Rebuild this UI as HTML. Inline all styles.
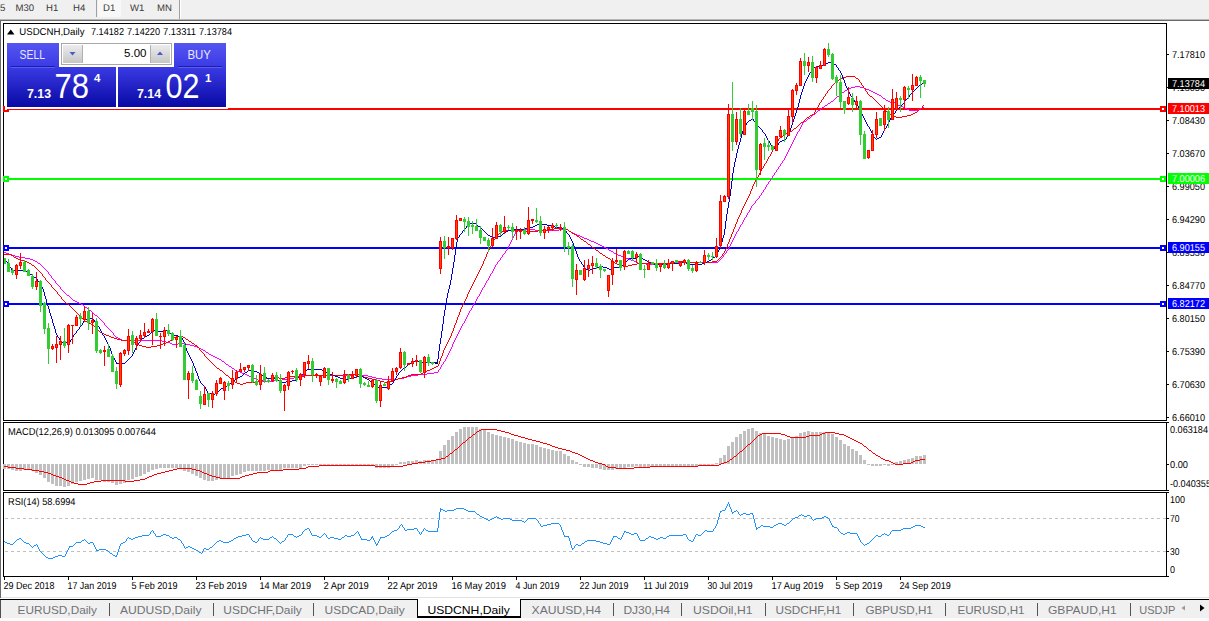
<!DOCTYPE html>
<html><head><meta charset="utf-8"><title>USDCNH,Daily</title>
<style>
html,body{margin:0;padding:0;}
body{width:1209px;height:621px;overflow:hidden;background:#fff;position:relative;font-family:"Liberation Sans",sans-serif;}
.abs{position:absolute;}
#toolbar{left:0;top:0;width:1209px;height:19px;background:#f0f0f0;}
#toolbar span{position:absolute;top:3px;text-rendering:geometricPrecision;font-size:9.6px;line-height:12px;color:#3a3a3a;white-space:nowrap;}
#tabs{left:0;top:600px;width:1209px;height:18px;background:#f0f0f0;}
#tabs span.t{position:absolute;top:3px;font-size:11.5px;line-height:14px;color:#6a6a6e;white-space:nowrap;transform-origin:0 0;}
#tabs i{position:absolute;top:2px;width:1px;height:14px;background:#5a5a5a;}
.px{position:absolute;background:linear-gradient(#4c4cec,#0a0aa6);}
</style></head><body>
<div id="toolbar" class="abs">
<span style="left:0px">5</span><span style="left:15.5px">M30</span><span style="left:46px">H1</span><span style="left:73px">H4</span>
<div class="abs" style="left:96px;top:0;width:1px;height:17px;background:#a0a0a0"></div>
<div class="abs" style="left:98px;top:0;width:23px;height:17px;background:#f8f8f8"></div>
<span style="left:103px">D1</span><span style="left:130px">W1</span><span style="left:157px">MN</span>
<div class="abs" style="left:179px;top:0;width:1px;height:19px;background:#a0a0a0"></div>
<div class="abs" style="left:180px;top:0;width:1px;height:19px;background:#fff"></div>
</div>
<div class="abs" style="left:0;top:19px;width:1209px;height:1px;background:#b8b8b8"></div>
<div class="abs" style="left:0;top:20px;width:1209px;height:1px;background:#6a6a6a"></div>
<div class="abs" style="left:0;top:21px;width:1px;height:577px;background:#6a6a6a"></div>
<svg class="abs" style="left:0;top:0" width="1209" height="621" viewBox="0 0 1209 621">
<g shape-rendering="crispEdges">
<rect x="3" y="23" width="1164" height="1" fill="#000"/>
<rect x="3" y="23" width="1" height="554" fill="#000"/>
<rect x="1166" y="23" width="1" height="554" fill="#000"/>
<rect x="3" y="420" width="1164" height="1" fill="#000"/>
<rect x="3" y="421" width="1164" height="1" fill="#fff"/>
<rect x="3" y="422" width="1166" height="1" fill="#000"/>
<rect x="3" y="490" width="1166" height="1" fill="#000"/>
<rect x="3" y="491" width="1164" height="1" fill="#fff"/>
<rect x="3" y="492" width="1166" height="1" fill="#000"/>
<rect x="3" y="576" width="1166" height="1" fill="#000"/>
<rect x="1167" y="54" width="2" height="1" fill="#000"/>
<rect x="1167" y="87" width="2" height="1" fill="#000"/>
<rect x="1167" y="120" width="2" height="1" fill="#000"/>
<rect x="1167" y="153" width="2" height="1" fill="#000"/>
<rect x="1167" y="186" width="2" height="1" fill="#000"/>
<rect x="1167" y="219" width="2" height="1" fill="#000"/>
<rect x="1167" y="252" width="2" height="1" fill="#000"/>
<rect x="1167" y="285" width="2" height="1" fill="#000"/>
<rect x="1167" y="318" width="2" height="1" fill="#000"/>
<rect x="1167" y="351" width="2" height="1" fill="#000"/>
<rect x="1167" y="384" width="2" height="1" fill="#000"/>
<rect x="1167" y="417" width="2" height="1" fill="#000"/>
<rect x="1167" y="464" width="2" height="1" fill="#000"/>
<rect x="1167" y="518" width="2" height="1" fill="#000"/>
<rect x="1167" y="551" width="2" height="1" fill="#000"/>
<rect x="4" y="577" width="1" height="3" fill="#000"/>
<rect x="68" y="577" width="1" height="3" fill="#000"/>
<rect x="132" y="577" width="1" height="3" fill="#000"/>
<rect x="196" y="577" width="1" height="3" fill="#000"/>
<rect x="260" y="577" width="1" height="3" fill="#000"/>
<rect x="324" y="577" width="1" height="3" fill="#000"/>
<rect x="388" y="577" width="1" height="3" fill="#000"/>
<rect x="452" y="577" width="1" height="3" fill="#000"/>
<rect x="516" y="577" width="1" height="3" fill="#000"/>
<rect x="580" y="577" width="1" height="3" fill="#000"/>
<rect x="644" y="577" width="1" height="3" fill="#000"/>
<rect x="708" y="577" width="1" height="3" fill="#000"/>
<rect x="772" y="577" width="1" height="3" fill="#000"/>
<rect x="836" y="577" width="1" height="3" fill="#000"/>
<rect x="900" y="577" width="1" height="3" fill="#000"/>
<rect x="5" y="518" width="3" height="1" fill="#c0c0c0"/>
<rect x="11" y="518" width="3" height="1" fill="#c0c0c0"/>
<rect x="17" y="518" width="3" height="1" fill="#c0c0c0"/>
<rect x="23" y="518" width="3" height="1" fill="#c0c0c0"/>
<rect x="29" y="518" width="3" height="1" fill="#c0c0c0"/>
<rect x="35" y="518" width="3" height="1" fill="#c0c0c0"/>
<rect x="41" y="518" width="3" height="1" fill="#c0c0c0"/>
<rect x="47" y="518" width="3" height="1" fill="#c0c0c0"/>
<rect x="53" y="518" width="3" height="1" fill="#c0c0c0"/>
<rect x="59" y="518" width="3" height="1" fill="#c0c0c0"/>
<rect x="65" y="518" width="3" height="1" fill="#c0c0c0"/>
<rect x="71" y="518" width="3" height="1" fill="#c0c0c0"/>
<rect x="77" y="518" width="3" height="1" fill="#c0c0c0"/>
<rect x="83" y="518" width="3" height="1" fill="#c0c0c0"/>
<rect x="89" y="518" width="3" height="1" fill="#c0c0c0"/>
<rect x="95" y="518" width="3" height="1" fill="#c0c0c0"/>
<rect x="101" y="518" width="3" height="1" fill="#c0c0c0"/>
<rect x="107" y="518" width="3" height="1" fill="#c0c0c0"/>
<rect x="113" y="518" width="3" height="1" fill="#c0c0c0"/>
<rect x="119" y="518" width="3" height="1" fill="#c0c0c0"/>
<rect x="125" y="518" width="3" height="1" fill="#c0c0c0"/>
<rect x="131" y="518" width="3" height="1" fill="#c0c0c0"/>
<rect x="137" y="518" width="3" height="1" fill="#c0c0c0"/>
<rect x="143" y="518" width="3" height="1" fill="#c0c0c0"/>
<rect x="149" y="518" width="3" height="1" fill="#c0c0c0"/>
<rect x="155" y="518" width="3" height="1" fill="#c0c0c0"/>
<rect x="161" y="518" width="3" height="1" fill="#c0c0c0"/>
<rect x="167" y="518" width="3" height="1" fill="#c0c0c0"/>
<rect x="173" y="518" width="3" height="1" fill="#c0c0c0"/>
<rect x="179" y="518" width="3" height="1" fill="#c0c0c0"/>
<rect x="185" y="518" width="3" height="1" fill="#c0c0c0"/>
<rect x="191" y="518" width="3" height="1" fill="#c0c0c0"/>
<rect x="197" y="518" width="3" height="1" fill="#c0c0c0"/>
<rect x="203" y="518" width="3" height="1" fill="#c0c0c0"/>
<rect x="209" y="518" width="3" height="1" fill="#c0c0c0"/>
<rect x="215" y="518" width="3" height="1" fill="#c0c0c0"/>
<rect x="221" y="518" width="3" height="1" fill="#c0c0c0"/>
<rect x="227" y="518" width="3" height="1" fill="#c0c0c0"/>
<rect x="233" y="518" width="3" height="1" fill="#c0c0c0"/>
<rect x="239" y="518" width="3" height="1" fill="#c0c0c0"/>
<rect x="245" y="518" width="3" height="1" fill="#c0c0c0"/>
<rect x="251" y="518" width="3" height="1" fill="#c0c0c0"/>
<rect x="257" y="518" width="3" height="1" fill="#c0c0c0"/>
<rect x="263" y="518" width="3" height="1" fill="#c0c0c0"/>
<rect x="269" y="518" width="3" height="1" fill="#c0c0c0"/>
<rect x="275" y="518" width="3" height="1" fill="#c0c0c0"/>
<rect x="281" y="518" width="3" height="1" fill="#c0c0c0"/>
<rect x="287" y="518" width="3" height="1" fill="#c0c0c0"/>
<rect x="293" y="518" width="3" height="1" fill="#c0c0c0"/>
<rect x="299" y="518" width="3" height="1" fill="#c0c0c0"/>
<rect x="305" y="518" width="3" height="1" fill="#c0c0c0"/>
<rect x="311" y="518" width="3" height="1" fill="#c0c0c0"/>
<rect x="317" y="518" width="3" height="1" fill="#c0c0c0"/>
<rect x="323" y="518" width="3" height="1" fill="#c0c0c0"/>
<rect x="329" y="518" width="3" height="1" fill="#c0c0c0"/>
<rect x="335" y="518" width="3" height="1" fill="#c0c0c0"/>
<rect x="341" y="518" width="3" height="1" fill="#c0c0c0"/>
<rect x="347" y="518" width="3" height="1" fill="#c0c0c0"/>
<rect x="353" y="518" width="3" height="1" fill="#c0c0c0"/>
<rect x="359" y="518" width="3" height="1" fill="#c0c0c0"/>
<rect x="365" y="518" width="3" height="1" fill="#c0c0c0"/>
<rect x="371" y="518" width="3" height="1" fill="#c0c0c0"/>
<rect x="377" y="518" width="3" height="1" fill="#c0c0c0"/>
<rect x="383" y="518" width="3" height="1" fill="#c0c0c0"/>
<rect x="389" y="518" width="3" height="1" fill="#c0c0c0"/>
<rect x="395" y="518" width="3" height="1" fill="#c0c0c0"/>
<rect x="401" y="518" width="3" height="1" fill="#c0c0c0"/>
<rect x="407" y="518" width="3" height="1" fill="#c0c0c0"/>
<rect x="413" y="518" width="3" height="1" fill="#c0c0c0"/>
<rect x="419" y="518" width="3" height="1" fill="#c0c0c0"/>
<rect x="425" y="518" width="3" height="1" fill="#c0c0c0"/>
<rect x="431" y="518" width="3" height="1" fill="#c0c0c0"/>
<rect x="437" y="518" width="3" height="1" fill="#c0c0c0"/>
<rect x="443" y="518" width="3" height="1" fill="#c0c0c0"/>
<rect x="449" y="518" width="3" height="1" fill="#c0c0c0"/>
<rect x="455" y="518" width="3" height="1" fill="#c0c0c0"/>
<rect x="461" y="518" width="3" height="1" fill="#c0c0c0"/>
<rect x="467" y="518" width="3" height="1" fill="#c0c0c0"/>
<rect x="473" y="518" width="3" height="1" fill="#c0c0c0"/>
<rect x="479" y="518" width="3" height="1" fill="#c0c0c0"/>
<rect x="485" y="518" width="3" height="1" fill="#c0c0c0"/>
<rect x="491" y="518" width="3" height="1" fill="#c0c0c0"/>
<rect x="497" y="518" width="3" height="1" fill="#c0c0c0"/>
<rect x="503" y="518" width="3" height="1" fill="#c0c0c0"/>
<rect x="509" y="518" width="3" height="1" fill="#c0c0c0"/>
<rect x="515" y="518" width="3" height="1" fill="#c0c0c0"/>
<rect x="521" y="518" width="3" height="1" fill="#c0c0c0"/>
<rect x="527" y="518" width="3" height="1" fill="#c0c0c0"/>
<rect x="533" y="518" width="3" height="1" fill="#c0c0c0"/>
<rect x="539" y="518" width="3" height="1" fill="#c0c0c0"/>
<rect x="545" y="518" width="3" height="1" fill="#c0c0c0"/>
<rect x="551" y="518" width="3" height="1" fill="#c0c0c0"/>
<rect x="557" y="518" width="3" height="1" fill="#c0c0c0"/>
<rect x="563" y="518" width="3" height="1" fill="#c0c0c0"/>
<rect x="569" y="518" width="3" height="1" fill="#c0c0c0"/>
<rect x="575" y="518" width="3" height="1" fill="#c0c0c0"/>
<rect x="581" y="518" width="3" height="1" fill="#c0c0c0"/>
<rect x="587" y="518" width="3" height="1" fill="#c0c0c0"/>
<rect x="593" y="518" width="3" height="1" fill="#c0c0c0"/>
<rect x="599" y="518" width="3" height="1" fill="#c0c0c0"/>
<rect x="605" y="518" width="3" height="1" fill="#c0c0c0"/>
<rect x="611" y="518" width="3" height="1" fill="#c0c0c0"/>
<rect x="617" y="518" width="3" height="1" fill="#c0c0c0"/>
<rect x="623" y="518" width="3" height="1" fill="#c0c0c0"/>
<rect x="629" y="518" width="3" height="1" fill="#c0c0c0"/>
<rect x="635" y="518" width="3" height="1" fill="#c0c0c0"/>
<rect x="641" y="518" width="3" height="1" fill="#c0c0c0"/>
<rect x="647" y="518" width="3" height="1" fill="#c0c0c0"/>
<rect x="653" y="518" width="3" height="1" fill="#c0c0c0"/>
<rect x="659" y="518" width="3" height="1" fill="#c0c0c0"/>
<rect x="665" y="518" width="3" height="1" fill="#c0c0c0"/>
<rect x="671" y="518" width="3" height="1" fill="#c0c0c0"/>
<rect x="677" y="518" width="3" height="1" fill="#c0c0c0"/>
<rect x="683" y="518" width="3" height="1" fill="#c0c0c0"/>
<rect x="689" y="518" width="3" height="1" fill="#c0c0c0"/>
<rect x="695" y="518" width="3" height="1" fill="#c0c0c0"/>
<rect x="701" y="518" width="3" height="1" fill="#c0c0c0"/>
<rect x="707" y="518" width="3" height="1" fill="#c0c0c0"/>
<rect x="713" y="518" width="3" height="1" fill="#c0c0c0"/>
<rect x="719" y="518" width="3" height="1" fill="#c0c0c0"/>
<rect x="725" y="518" width="3" height="1" fill="#c0c0c0"/>
<rect x="731" y="518" width="3" height="1" fill="#c0c0c0"/>
<rect x="737" y="518" width="3" height="1" fill="#c0c0c0"/>
<rect x="743" y="518" width="3" height="1" fill="#c0c0c0"/>
<rect x="749" y="518" width="3" height="1" fill="#c0c0c0"/>
<rect x="755" y="518" width="3" height="1" fill="#c0c0c0"/>
<rect x="761" y="518" width="3" height="1" fill="#c0c0c0"/>
<rect x="767" y="518" width="3" height="1" fill="#c0c0c0"/>
<rect x="773" y="518" width="3" height="1" fill="#c0c0c0"/>
<rect x="779" y="518" width="3" height="1" fill="#c0c0c0"/>
<rect x="785" y="518" width="3" height="1" fill="#c0c0c0"/>
<rect x="791" y="518" width="3" height="1" fill="#c0c0c0"/>
<rect x="797" y="518" width="3" height="1" fill="#c0c0c0"/>
<rect x="803" y="518" width="3" height="1" fill="#c0c0c0"/>
<rect x="809" y="518" width="3" height="1" fill="#c0c0c0"/>
<rect x="815" y="518" width="3" height="1" fill="#c0c0c0"/>
<rect x="821" y="518" width="3" height="1" fill="#c0c0c0"/>
<rect x="827" y="518" width="3" height="1" fill="#c0c0c0"/>
<rect x="833" y="518" width="3" height="1" fill="#c0c0c0"/>
<rect x="839" y="518" width="3" height="1" fill="#c0c0c0"/>
<rect x="845" y="518" width="3" height="1" fill="#c0c0c0"/>
<rect x="851" y="518" width="3" height="1" fill="#c0c0c0"/>
<rect x="857" y="518" width="3" height="1" fill="#c0c0c0"/>
<rect x="863" y="518" width="3" height="1" fill="#c0c0c0"/>
<rect x="869" y="518" width="3" height="1" fill="#c0c0c0"/>
<rect x="875" y="518" width="3" height="1" fill="#c0c0c0"/>
<rect x="881" y="518" width="3" height="1" fill="#c0c0c0"/>
<rect x="887" y="518" width="3" height="1" fill="#c0c0c0"/>
<rect x="893" y="518" width="3" height="1" fill="#c0c0c0"/>
<rect x="899" y="518" width="3" height="1" fill="#c0c0c0"/>
<rect x="905" y="518" width="3" height="1" fill="#c0c0c0"/>
<rect x="911" y="518" width="3" height="1" fill="#c0c0c0"/>
<rect x="917" y="518" width="3" height="1" fill="#c0c0c0"/>
<rect x="923" y="518" width="3" height="1" fill="#c0c0c0"/>
<rect x="929" y="518" width="3" height="1" fill="#c0c0c0"/>
<rect x="935" y="518" width="3" height="1" fill="#c0c0c0"/>
<rect x="941" y="518" width="3" height="1" fill="#c0c0c0"/>
<rect x="947" y="518" width="3" height="1" fill="#c0c0c0"/>
<rect x="953" y="518" width="3" height="1" fill="#c0c0c0"/>
<rect x="959" y="518" width="3" height="1" fill="#c0c0c0"/>
<rect x="965" y="518" width="3" height="1" fill="#c0c0c0"/>
<rect x="971" y="518" width="3" height="1" fill="#c0c0c0"/>
<rect x="977" y="518" width="3" height="1" fill="#c0c0c0"/>
<rect x="983" y="518" width="3" height="1" fill="#c0c0c0"/>
<rect x="989" y="518" width="3" height="1" fill="#c0c0c0"/>
<rect x="995" y="518" width="3" height="1" fill="#c0c0c0"/>
<rect x="1001" y="518" width="3" height="1" fill="#c0c0c0"/>
<rect x="1007" y="518" width="3" height="1" fill="#c0c0c0"/>
<rect x="1013" y="518" width="3" height="1" fill="#c0c0c0"/>
<rect x="1019" y="518" width="3" height="1" fill="#c0c0c0"/>
<rect x="1025" y="518" width="3" height="1" fill="#c0c0c0"/>
<rect x="1031" y="518" width="3" height="1" fill="#c0c0c0"/>
<rect x="1037" y="518" width="3" height="1" fill="#c0c0c0"/>
<rect x="1043" y="518" width="3" height="1" fill="#c0c0c0"/>
<rect x="1049" y="518" width="3" height="1" fill="#c0c0c0"/>
<rect x="1055" y="518" width="3" height="1" fill="#c0c0c0"/>
<rect x="1061" y="518" width="3" height="1" fill="#c0c0c0"/>
<rect x="1067" y="518" width="3" height="1" fill="#c0c0c0"/>
<rect x="1073" y="518" width="3" height="1" fill="#c0c0c0"/>
<rect x="1079" y="518" width="3" height="1" fill="#c0c0c0"/>
<rect x="1085" y="518" width="3" height="1" fill="#c0c0c0"/>
<rect x="1091" y="518" width="3" height="1" fill="#c0c0c0"/>
<rect x="1097" y="518" width="3" height="1" fill="#c0c0c0"/>
<rect x="1103" y="518" width="3" height="1" fill="#c0c0c0"/>
<rect x="1109" y="518" width="3" height="1" fill="#c0c0c0"/>
<rect x="1115" y="518" width="3" height="1" fill="#c0c0c0"/>
<rect x="1121" y="518" width="3" height="1" fill="#c0c0c0"/>
<rect x="1127" y="518" width="3" height="1" fill="#c0c0c0"/>
<rect x="1133" y="518" width="3" height="1" fill="#c0c0c0"/>
<rect x="1139" y="518" width="3" height="1" fill="#c0c0c0"/>
<rect x="1145" y="518" width="3" height="1" fill="#c0c0c0"/>
<rect x="1151" y="518" width="3" height="1" fill="#c0c0c0"/>
<rect x="1157" y="518" width="3" height="1" fill="#c0c0c0"/>
<rect x="1163" y="518" width="3" height="1" fill="#c0c0c0"/>
<rect x="5" y="551" width="3" height="1" fill="#c0c0c0"/>
<rect x="11" y="551" width="3" height="1" fill="#c0c0c0"/>
<rect x="17" y="551" width="3" height="1" fill="#c0c0c0"/>
<rect x="23" y="551" width="3" height="1" fill="#c0c0c0"/>
<rect x="29" y="551" width="3" height="1" fill="#c0c0c0"/>
<rect x="35" y="551" width="3" height="1" fill="#c0c0c0"/>
<rect x="41" y="551" width="3" height="1" fill="#c0c0c0"/>
<rect x="47" y="551" width="3" height="1" fill="#c0c0c0"/>
<rect x="53" y="551" width="3" height="1" fill="#c0c0c0"/>
<rect x="59" y="551" width="3" height="1" fill="#c0c0c0"/>
<rect x="65" y="551" width="3" height="1" fill="#c0c0c0"/>
<rect x="71" y="551" width="3" height="1" fill="#c0c0c0"/>
<rect x="77" y="551" width="3" height="1" fill="#c0c0c0"/>
<rect x="83" y="551" width="3" height="1" fill="#c0c0c0"/>
<rect x="89" y="551" width="3" height="1" fill="#c0c0c0"/>
<rect x="95" y="551" width="3" height="1" fill="#c0c0c0"/>
<rect x="101" y="551" width="3" height="1" fill="#c0c0c0"/>
<rect x="107" y="551" width="3" height="1" fill="#c0c0c0"/>
<rect x="113" y="551" width="3" height="1" fill="#c0c0c0"/>
<rect x="119" y="551" width="3" height="1" fill="#c0c0c0"/>
<rect x="125" y="551" width="3" height="1" fill="#c0c0c0"/>
<rect x="131" y="551" width="3" height="1" fill="#c0c0c0"/>
<rect x="137" y="551" width="3" height="1" fill="#c0c0c0"/>
<rect x="143" y="551" width="3" height="1" fill="#c0c0c0"/>
<rect x="149" y="551" width="3" height="1" fill="#c0c0c0"/>
<rect x="155" y="551" width="3" height="1" fill="#c0c0c0"/>
<rect x="161" y="551" width="3" height="1" fill="#c0c0c0"/>
<rect x="167" y="551" width="3" height="1" fill="#c0c0c0"/>
<rect x="173" y="551" width="3" height="1" fill="#c0c0c0"/>
<rect x="179" y="551" width="3" height="1" fill="#c0c0c0"/>
<rect x="185" y="551" width="3" height="1" fill="#c0c0c0"/>
<rect x="191" y="551" width="3" height="1" fill="#c0c0c0"/>
<rect x="197" y="551" width="3" height="1" fill="#c0c0c0"/>
<rect x="203" y="551" width="3" height="1" fill="#c0c0c0"/>
<rect x="209" y="551" width="3" height="1" fill="#c0c0c0"/>
<rect x="215" y="551" width="3" height="1" fill="#c0c0c0"/>
<rect x="221" y="551" width="3" height="1" fill="#c0c0c0"/>
<rect x="227" y="551" width="3" height="1" fill="#c0c0c0"/>
<rect x="233" y="551" width="3" height="1" fill="#c0c0c0"/>
<rect x="239" y="551" width="3" height="1" fill="#c0c0c0"/>
<rect x="245" y="551" width="3" height="1" fill="#c0c0c0"/>
<rect x="251" y="551" width="3" height="1" fill="#c0c0c0"/>
<rect x="257" y="551" width="3" height="1" fill="#c0c0c0"/>
<rect x="263" y="551" width="3" height="1" fill="#c0c0c0"/>
<rect x="269" y="551" width="3" height="1" fill="#c0c0c0"/>
<rect x="275" y="551" width="3" height="1" fill="#c0c0c0"/>
<rect x="281" y="551" width="3" height="1" fill="#c0c0c0"/>
<rect x="287" y="551" width="3" height="1" fill="#c0c0c0"/>
<rect x="293" y="551" width="3" height="1" fill="#c0c0c0"/>
<rect x="299" y="551" width="3" height="1" fill="#c0c0c0"/>
<rect x="305" y="551" width="3" height="1" fill="#c0c0c0"/>
<rect x="311" y="551" width="3" height="1" fill="#c0c0c0"/>
<rect x="317" y="551" width="3" height="1" fill="#c0c0c0"/>
<rect x="323" y="551" width="3" height="1" fill="#c0c0c0"/>
<rect x="329" y="551" width="3" height="1" fill="#c0c0c0"/>
<rect x="335" y="551" width="3" height="1" fill="#c0c0c0"/>
<rect x="341" y="551" width="3" height="1" fill="#c0c0c0"/>
<rect x="347" y="551" width="3" height="1" fill="#c0c0c0"/>
<rect x="353" y="551" width="3" height="1" fill="#c0c0c0"/>
<rect x="359" y="551" width="3" height="1" fill="#c0c0c0"/>
<rect x="365" y="551" width="3" height="1" fill="#c0c0c0"/>
<rect x="371" y="551" width="3" height="1" fill="#c0c0c0"/>
<rect x="377" y="551" width="3" height="1" fill="#c0c0c0"/>
<rect x="383" y="551" width="3" height="1" fill="#c0c0c0"/>
<rect x="389" y="551" width="3" height="1" fill="#c0c0c0"/>
<rect x="395" y="551" width="3" height="1" fill="#c0c0c0"/>
<rect x="401" y="551" width="3" height="1" fill="#c0c0c0"/>
<rect x="407" y="551" width="3" height="1" fill="#c0c0c0"/>
<rect x="413" y="551" width="3" height="1" fill="#c0c0c0"/>
<rect x="419" y="551" width="3" height="1" fill="#c0c0c0"/>
<rect x="425" y="551" width="3" height="1" fill="#c0c0c0"/>
<rect x="431" y="551" width="3" height="1" fill="#c0c0c0"/>
<rect x="437" y="551" width="3" height="1" fill="#c0c0c0"/>
<rect x="443" y="551" width="3" height="1" fill="#c0c0c0"/>
<rect x="449" y="551" width="3" height="1" fill="#c0c0c0"/>
<rect x="455" y="551" width="3" height="1" fill="#c0c0c0"/>
<rect x="461" y="551" width="3" height="1" fill="#c0c0c0"/>
<rect x="467" y="551" width="3" height="1" fill="#c0c0c0"/>
<rect x="473" y="551" width="3" height="1" fill="#c0c0c0"/>
<rect x="479" y="551" width="3" height="1" fill="#c0c0c0"/>
<rect x="485" y="551" width="3" height="1" fill="#c0c0c0"/>
<rect x="491" y="551" width="3" height="1" fill="#c0c0c0"/>
<rect x="497" y="551" width="3" height="1" fill="#c0c0c0"/>
<rect x="503" y="551" width="3" height="1" fill="#c0c0c0"/>
<rect x="509" y="551" width="3" height="1" fill="#c0c0c0"/>
<rect x="515" y="551" width="3" height="1" fill="#c0c0c0"/>
<rect x="521" y="551" width="3" height="1" fill="#c0c0c0"/>
<rect x="527" y="551" width="3" height="1" fill="#c0c0c0"/>
<rect x="533" y="551" width="3" height="1" fill="#c0c0c0"/>
<rect x="539" y="551" width="3" height="1" fill="#c0c0c0"/>
<rect x="545" y="551" width="3" height="1" fill="#c0c0c0"/>
<rect x="551" y="551" width="3" height="1" fill="#c0c0c0"/>
<rect x="557" y="551" width="3" height="1" fill="#c0c0c0"/>
<rect x="563" y="551" width="3" height="1" fill="#c0c0c0"/>
<rect x="569" y="551" width="3" height="1" fill="#c0c0c0"/>
<rect x="575" y="551" width="3" height="1" fill="#c0c0c0"/>
<rect x="581" y="551" width="3" height="1" fill="#c0c0c0"/>
<rect x="587" y="551" width="3" height="1" fill="#c0c0c0"/>
<rect x="593" y="551" width="3" height="1" fill="#c0c0c0"/>
<rect x="599" y="551" width="3" height="1" fill="#c0c0c0"/>
<rect x="605" y="551" width="3" height="1" fill="#c0c0c0"/>
<rect x="611" y="551" width="3" height="1" fill="#c0c0c0"/>
<rect x="617" y="551" width="3" height="1" fill="#c0c0c0"/>
<rect x="623" y="551" width="3" height="1" fill="#c0c0c0"/>
<rect x="629" y="551" width="3" height="1" fill="#c0c0c0"/>
<rect x="635" y="551" width="3" height="1" fill="#c0c0c0"/>
<rect x="641" y="551" width="3" height="1" fill="#c0c0c0"/>
<rect x="647" y="551" width="3" height="1" fill="#c0c0c0"/>
<rect x="653" y="551" width="3" height="1" fill="#c0c0c0"/>
<rect x="659" y="551" width="3" height="1" fill="#c0c0c0"/>
<rect x="665" y="551" width="3" height="1" fill="#c0c0c0"/>
<rect x="671" y="551" width="3" height="1" fill="#c0c0c0"/>
<rect x="677" y="551" width="3" height="1" fill="#c0c0c0"/>
<rect x="683" y="551" width="3" height="1" fill="#c0c0c0"/>
<rect x="689" y="551" width="3" height="1" fill="#c0c0c0"/>
<rect x="695" y="551" width="3" height="1" fill="#c0c0c0"/>
<rect x="701" y="551" width="3" height="1" fill="#c0c0c0"/>
<rect x="707" y="551" width="3" height="1" fill="#c0c0c0"/>
<rect x="713" y="551" width="3" height="1" fill="#c0c0c0"/>
<rect x="719" y="551" width="3" height="1" fill="#c0c0c0"/>
<rect x="725" y="551" width="3" height="1" fill="#c0c0c0"/>
<rect x="731" y="551" width="3" height="1" fill="#c0c0c0"/>
<rect x="737" y="551" width="3" height="1" fill="#c0c0c0"/>
<rect x="743" y="551" width="3" height="1" fill="#c0c0c0"/>
<rect x="749" y="551" width="3" height="1" fill="#c0c0c0"/>
<rect x="755" y="551" width="3" height="1" fill="#c0c0c0"/>
<rect x="761" y="551" width="3" height="1" fill="#c0c0c0"/>
<rect x="767" y="551" width="3" height="1" fill="#c0c0c0"/>
<rect x="773" y="551" width="3" height="1" fill="#c0c0c0"/>
<rect x="779" y="551" width="3" height="1" fill="#c0c0c0"/>
<rect x="785" y="551" width="3" height="1" fill="#c0c0c0"/>
<rect x="791" y="551" width="3" height="1" fill="#c0c0c0"/>
<rect x="797" y="551" width="3" height="1" fill="#c0c0c0"/>
<rect x="803" y="551" width="3" height="1" fill="#c0c0c0"/>
<rect x="809" y="551" width="3" height="1" fill="#c0c0c0"/>
<rect x="815" y="551" width="3" height="1" fill="#c0c0c0"/>
<rect x="821" y="551" width="3" height="1" fill="#c0c0c0"/>
<rect x="827" y="551" width="3" height="1" fill="#c0c0c0"/>
<rect x="833" y="551" width="3" height="1" fill="#c0c0c0"/>
<rect x="839" y="551" width="3" height="1" fill="#c0c0c0"/>
<rect x="845" y="551" width="3" height="1" fill="#c0c0c0"/>
<rect x="851" y="551" width="3" height="1" fill="#c0c0c0"/>
<rect x="857" y="551" width="3" height="1" fill="#c0c0c0"/>
<rect x="863" y="551" width="3" height="1" fill="#c0c0c0"/>
<rect x="869" y="551" width="3" height="1" fill="#c0c0c0"/>
<rect x="875" y="551" width="3" height="1" fill="#c0c0c0"/>
<rect x="881" y="551" width="3" height="1" fill="#c0c0c0"/>
<rect x="887" y="551" width="3" height="1" fill="#c0c0c0"/>
<rect x="893" y="551" width="3" height="1" fill="#c0c0c0"/>
<rect x="899" y="551" width="3" height="1" fill="#c0c0c0"/>
<rect x="905" y="551" width="3" height="1" fill="#c0c0c0"/>
<rect x="911" y="551" width="3" height="1" fill="#c0c0c0"/>
<rect x="917" y="551" width="3" height="1" fill="#c0c0c0"/>
<rect x="923" y="551" width="3" height="1" fill="#c0c0c0"/>
<rect x="929" y="551" width="3" height="1" fill="#c0c0c0"/>
<rect x="935" y="551" width="3" height="1" fill="#c0c0c0"/>
<rect x="941" y="551" width="3" height="1" fill="#c0c0c0"/>
<rect x="947" y="551" width="3" height="1" fill="#c0c0c0"/>
<rect x="953" y="551" width="3" height="1" fill="#c0c0c0"/>
<rect x="959" y="551" width="3" height="1" fill="#c0c0c0"/>
<rect x="965" y="551" width="3" height="1" fill="#c0c0c0"/>
<rect x="971" y="551" width="3" height="1" fill="#c0c0c0"/>
<rect x="977" y="551" width="3" height="1" fill="#c0c0c0"/>
<rect x="983" y="551" width="3" height="1" fill="#c0c0c0"/>
<rect x="989" y="551" width="3" height="1" fill="#c0c0c0"/>
<rect x="995" y="551" width="3" height="1" fill="#c0c0c0"/>
<rect x="1001" y="551" width="3" height="1" fill="#c0c0c0"/>
<rect x="1007" y="551" width="3" height="1" fill="#c0c0c0"/>
<rect x="1013" y="551" width="3" height="1" fill="#c0c0c0"/>
<rect x="1019" y="551" width="3" height="1" fill="#c0c0c0"/>
<rect x="1025" y="551" width="3" height="1" fill="#c0c0c0"/>
<rect x="1031" y="551" width="3" height="1" fill="#c0c0c0"/>
<rect x="1037" y="551" width="3" height="1" fill="#c0c0c0"/>
<rect x="1043" y="551" width="3" height="1" fill="#c0c0c0"/>
<rect x="1049" y="551" width="3" height="1" fill="#c0c0c0"/>
<rect x="1055" y="551" width="3" height="1" fill="#c0c0c0"/>
<rect x="1061" y="551" width="3" height="1" fill="#c0c0c0"/>
<rect x="1067" y="551" width="3" height="1" fill="#c0c0c0"/>
<rect x="1073" y="551" width="3" height="1" fill="#c0c0c0"/>
<rect x="1079" y="551" width="3" height="1" fill="#c0c0c0"/>
<rect x="1085" y="551" width="3" height="1" fill="#c0c0c0"/>
<rect x="1091" y="551" width="3" height="1" fill="#c0c0c0"/>
<rect x="1097" y="551" width="3" height="1" fill="#c0c0c0"/>
<rect x="1103" y="551" width="3" height="1" fill="#c0c0c0"/>
<rect x="1109" y="551" width="3" height="1" fill="#c0c0c0"/>
<rect x="1115" y="551" width="3" height="1" fill="#c0c0c0"/>
<rect x="1121" y="551" width="3" height="1" fill="#c0c0c0"/>
<rect x="1127" y="551" width="3" height="1" fill="#c0c0c0"/>
<rect x="1133" y="551" width="3" height="1" fill="#c0c0c0"/>
<rect x="1139" y="551" width="3" height="1" fill="#c0c0c0"/>
<rect x="1145" y="551" width="3" height="1" fill="#c0c0c0"/>
<rect x="1151" y="551" width="3" height="1" fill="#c0c0c0"/>
<rect x="1157" y="551" width="3" height="1" fill="#c0c0c0"/>
<rect x="1163" y="551" width="3" height="1" fill="#c0c0c0"/>
<rect x="3" y="464" width="3" height="5" fill="#c0c0c0"/>
<rect x="7" y="464" width="3" height="5" fill="#c0c0c0"/>
<rect x="11" y="464" width="3" height="6" fill="#c0c0c0"/>
<rect x="15" y="464" width="3" height="7" fill="#c0c0c0"/>
<rect x="19" y="464" width="3" height="7" fill="#c0c0c0"/>
<rect x="23" y="464" width="3" height="6" fill="#c0c0c0"/>
<rect x="27" y="464" width="3" height="6" fill="#c0c0c0"/>
<rect x="31" y="464" width="3" height="7" fill="#c0c0c0"/>
<rect x="35" y="464" width="3" height="9" fill="#c0c0c0"/>
<rect x="39" y="464" width="3" height="11" fill="#c0c0c0"/>
<rect x="43" y="464" width="3" height="14" fill="#c0c0c0"/>
<rect x="47" y="464" width="3" height="18" fill="#c0c0c0"/>
<rect x="51" y="464" width="3" height="20" fill="#c0c0c0"/>
<rect x="55" y="464" width="3" height="22" fill="#c0c0c0"/>
<rect x="59" y="464" width="3" height="22" fill="#c0c0c0"/>
<rect x="63" y="464" width="3" height="23" fill="#c0c0c0"/>
<rect x="67" y="464" width="3" height="22" fill="#c0c0c0"/>
<rect x="71" y="464" width="3" height="20" fill="#c0c0c0"/>
<rect x="75" y="464" width="3" height="18" fill="#c0c0c0"/>
<rect x="79" y="464" width="3" height="17" fill="#c0c0c0"/>
<rect x="83" y="464" width="3" height="16" fill="#c0c0c0"/>
<rect x="87" y="464" width="3" height="15" fill="#c0c0c0"/>
<rect x="91" y="464" width="3" height="14" fill="#c0c0c0"/>
<rect x="95" y="464" width="3" height="16" fill="#c0c0c0"/>
<rect x="99" y="464" width="3" height="16" fill="#c0c0c0"/>
<rect x="103" y="464" width="3" height="18" fill="#c0c0c0"/>
<rect x="107" y="464" width="3" height="18" fill="#c0c0c0"/>
<rect x="111" y="464" width="3" height="19" fill="#c0c0c0"/>
<rect x="115" y="464" width="3" height="21" fill="#c0c0c0"/>
<rect x="119" y="464" width="3" height="20" fill="#c0c0c0"/>
<rect x="123" y="464" width="3" height="19" fill="#c0c0c0"/>
<rect x="127" y="464" width="3" height="16" fill="#c0c0c0"/>
<rect x="131" y="464" width="3" height="15" fill="#c0c0c0"/>
<rect x="135" y="464" width="3" height="13" fill="#c0c0c0"/>
<rect x="139" y="464" width="3" height="12" fill="#c0c0c0"/>
<rect x="143" y="464" width="3" height="10" fill="#c0c0c0"/>
<rect x="147" y="464" width="3" height="8" fill="#c0c0c0"/>
<rect x="151" y="464" width="3" height="6" fill="#c0c0c0"/>
<rect x="155" y="464" width="3" height="5" fill="#c0c0c0"/>
<rect x="159" y="464" width="3" height="4" fill="#c0c0c0"/>
<rect x="163" y="464" width="3" height="4" fill="#c0c0c0"/>
<rect x="167" y="464" width="3" height="4" fill="#c0c0c0"/>
<rect x="171" y="464" width="3" height="4" fill="#c0c0c0"/>
<rect x="175" y="464" width="3" height="4" fill="#c0c0c0"/>
<rect x="179" y="464" width="3" height="4" fill="#c0c0c0"/>
<rect x="183" y="464" width="3" height="7" fill="#c0c0c0"/>
<rect x="187" y="464" width="3" height="8" fill="#c0c0c0"/>
<rect x="191" y="464" width="3" height="10" fill="#c0c0c0"/>
<rect x="195" y="464" width="3" height="12" fill="#c0c0c0"/>
<rect x="199" y="464" width="3" height="14" fill="#c0c0c0"/>
<rect x="203" y="464" width="3" height="16" fill="#c0c0c0"/>
<rect x="207" y="464" width="3" height="17" fill="#c0c0c0"/>
<rect x="211" y="464" width="3" height="17" fill="#c0c0c0"/>
<rect x="215" y="464" width="3" height="16" fill="#c0c0c0"/>
<rect x="219" y="464" width="3" height="15" fill="#c0c0c0"/>
<rect x="223" y="464" width="3" height="15" fill="#c0c0c0"/>
<rect x="227" y="464" width="3" height="14" fill="#c0c0c0"/>
<rect x="231" y="464" width="3" height="12" fill="#c0c0c0"/>
<rect x="235" y="464" width="3" height="11" fill="#c0c0c0"/>
<rect x="239" y="464" width="3" height="10" fill="#c0c0c0"/>
<rect x="243" y="464" width="3" height="8" fill="#c0c0c0"/>
<rect x="247" y="464" width="3" height="7" fill="#c0c0c0"/>
<rect x="251" y="464" width="3" height="7" fill="#c0c0c0"/>
<rect x="255" y="464" width="3" height="7" fill="#c0c0c0"/>
<rect x="259" y="464" width="3" height="7" fill="#c0c0c0"/>
<rect x="263" y="464" width="3" height="7" fill="#c0c0c0"/>
<rect x="267" y="464" width="3" height="6" fill="#c0c0c0"/>
<rect x="271" y="464" width="3" height="6" fill="#c0c0c0"/>
<rect x="275" y="464" width="3" height="6" fill="#c0c0c0"/>
<rect x="279" y="464" width="3" height="6" fill="#c0c0c0"/>
<rect x="283" y="464" width="3" height="4" fill="#c0c0c0"/>
<rect x="287" y="464" width="3" height="4" fill="#c0c0c0"/>
<rect x="291" y="464" width="3" height="4" fill="#c0c0c0"/>
<rect x="295" y="464" width="3" height="4" fill="#c0c0c0"/>
<rect x="299" y="464" width="3" height="4" fill="#c0c0c0"/>
<rect x="303" y="464" width="3" height="2" fill="#c0c0c0"/>
<rect x="307" y="464" width="3" height="1" fill="#c0c0c0"/>
<rect x="311" y="464" width="3" height="1" fill="#c0c0c0"/>
<rect x="315" y="464" width="3" height="1" fill="#c0c0c0"/>
<rect x="319" y="464" width="3" height="2" fill="#c0c0c0"/>
<rect x="323" y="464" width="3" height="1" fill="#c0c0c0"/>
<rect x="327" y="464" width="3" height="1" fill="#c0c0c0"/>
<rect x="331" y="464" width="3" height="1" fill="#c0c0c0"/>
<rect x="335" y="464" width="3" height="1" fill="#c0c0c0"/>
<rect x="339" y="464" width="3" height="2" fill="#c0c0c0"/>
<rect x="343" y="464" width="3" height="2" fill="#c0c0c0"/>
<rect x="347" y="464" width="3" height="1" fill="#c0c0c0"/>
<rect x="351" y="464" width="3" height="1" fill="#c0c0c0"/>
<rect x="355" y="464" width="3" height="1" fill="#c0c0c0"/>
<rect x="359" y="464" width="3" height="1" fill="#c0c0c0"/>
<rect x="363" y="464" width="3" height="2" fill="#c0c0c0"/>
<rect x="367" y="464" width="3" height="2" fill="#c0c0c0"/>
<rect x="371" y="464" width="3" height="2" fill="#c0c0c0"/>
<rect x="375" y="464" width="3" height="4" fill="#c0c0c0"/>
<rect x="379" y="464" width="3" height="4" fill="#c0c0c0"/>
<rect x="383" y="464" width="3" height="4" fill="#c0c0c0"/>
<rect x="387" y="464" width="3" height="4" fill="#c0c0c0"/>
<rect x="391" y="464" width="3" height="2" fill="#c0c0c0"/>
<rect x="395" y="464" width="3" height="1" fill="#c0c0c0"/>
<rect x="399" y="462" width="3" height="2" fill="#c0c0c0"/>
<rect x="403" y="462" width="3" height="2" fill="#c0c0c0"/>
<rect x="407" y="461" width="3" height="3" fill="#c0c0c0"/>
<rect x="411" y="461" width="3" height="3" fill="#c0c0c0"/>
<rect x="415" y="460" width="3" height="4" fill="#c0c0c0"/>
<rect x="419" y="461" width="3" height="3" fill="#c0c0c0"/>
<rect x="423" y="460" width="3" height="4" fill="#c0c0c0"/>
<rect x="427" y="460" width="3" height="4" fill="#c0c0c0"/>
<rect x="431" y="460" width="3" height="4" fill="#c0c0c0"/>
<rect x="435" y="460" width="3" height="4" fill="#c0c0c0"/>
<rect x="439" y="451" width="3" height="13" fill="#c0c0c0"/>
<rect x="443" y="445" width="3" height="19" fill="#c0c0c0"/>
<rect x="447" y="440" width="3" height="24" fill="#c0c0c0"/>
<rect x="451" y="436" width="3" height="28" fill="#c0c0c0"/>
<rect x="455" y="432" width="3" height="32" fill="#c0c0c0"/>
<rect x="459" y="429" width="3" height="35" fill="#c0c0c0"/>
<rect x="463" y="427" width="3" height="37" fill="#c0c0c0"/>
<rect x="467" y="427" width="3" height="37" fill="#c0c0c0"/>
<rect x="471" y="427" width="3" height="37" fill="#c0c0c0"/>
<rect x="475" y="427" width="3" height="37" fill="#c0c0c0"/>
<rect x="479" y="429" width="3" height="35" fill="#c0c0c0"/>
<rect x="483" y="430" width="3" height="34" fill="#c0c0c0"/>
<rect x="487" y="432" width="3" height="32" fill="#c0c0c0"/>
<rect x="491" y="434" width="3" height="30" fill="#c0c0c0"/>
<rect x="495" y="435" width="3" height="29" fill="#c0c0c0"/>
<rect x="499" y="436" width="3" height="28" fill="#c0c0c0"/>
<rect x="503" y="437" width="3" height="27" fill="#c0c0c0"/>
<rect x="507" y="438" width="3" height="26" fill="#c0c0c0"/>
<rect x="511" y="439" width="3" height="25" fill="#c0c0c0"/>
<rect x="515" y="441" width="3" height="23" fill="#c0c0c0"/>
<rect x="519" y="442" width="3" height="22" fill="#c0c0c0"/>
<rect x="523" y="443" width="3" height="21" fill="#c0c0c0"/>
<rect x="527" y="444" width="3" height="20" fill="#c0c0c0"/>
<rect x="531" y="444" width="3" height="20" fill="#c0c0c0"/>
<rect x="535" y="445" width="3" height="19" fill="#c0c0c0"/>
<rect x="539" y="447" width="3" height="17" fill="#c0c0c0"/>
<rect x="543" y="448" width="3" height="16" fill="#c0c0c0"/>
<rect x="547" y="449" width="3" height="15" fill="#c0c0c0"/>
<rect x="551" y="450" width="3" height="14" fill="#c0c0c0"/>
<rect x="555" y="451" width="3" height="13" fill="#c0c0c0"/>
<rect x="559" y="451" width="3" height="13" fill="#c0c0c0"/>
<rect x="563" y="454" width="3" height="10" fill="#c0c0c0"/>
<rect x="567" y="456" width="3" height="8" fill="#c0c0c0"/>
<rect x="571" y="460" width="3" height="4" fill="#c0c0c0"/>
<rect x="575" y="462" width="3" height="2" fill="#c0c0c0"/>
<rect x="579" y="464" width="3" height="1" fill="#c0c0c0"/>
<rect x="583" y="464" width="3" height="3" fill="#c0c0c0"/>
<rect x="587" y="464" width="3" height="3" fill="#c0c0c0"/>
<rect x="591" y="464" width="3" height="4" fill="#c0c0c0"/>
<rect x="595" y="464" width="3" height="4" fill="#c0c0c0"/>
<rect x="599" y="464" width="3" height="5" fill="#c0c0c0"/>
<rect x="603" y="464" width="3" height="6" fill="#c0c0c0"/>
<rect x="607" y="464" width="3" height="6" fill="#c0c0c0"/>
<rect x="611" y="464" width="3" height="6" fill="#c0c0c0"/>
<rect x="615" y="464" width="3" height="5" fill="#c0c0c0"/>
<rect x="619" y="464" width="3" height="4" fill="#c0c0c0"/>
<rect x="623" y="464" width="3" height="4" fill="#c0c0c0"/>
<rect x="627" y="464" width="3" height="3" fill="#c0c0c0"/>
<rect x="631" y="464" width="3" height="3" fill="#c0c0c0"/>
<rect x="635" y="464" width="3" height="2" fill="#c0c0c0"/>
<rect x="639" y="464" width="3" height="3" fill="#c0c0c0"/>
<rect x="643" y="464" width="3" height="3" fill="#c0c0c0"/>
<rect x="647" y="464" width="3" height="3" fill="#c0c0c0"/>
<rect x="651" y="464" width="3" height="2" fill="#c0c0c0"/>
<rect x="655" y="464" width="3" height="2" fill="#c0c0c0"/>
<rect x="659" y="464" width="3" height="2" fill="#c0c0c0"/>
<rect x="663" y="464" width="3" height="2" fill="#c0c0c0"/>
<rect x="667" y="464" width="3" height="2" fill="#c0c0c0"/>
<rect x="671" y="464" width="3" height="2" fill="#c0c0c0"/>
<rect x="675" y="464" width="3" height="2" fill="#c0c0c0"/>
<rect x="679" y="464" width="3" height="2" fill="#c0c0c0"/>
<rect x="683" y="464" width="3" height="2" fill="#c0c0c0"/>
<rect x="687" y="464" width="3" height="2" fill="#c0c0c0"/>
<rect x="691" y="464" width="3" height="2" fill="#c0c0c0"/>
<rect x="695" y="464" width="3" height="2" fill="#c0c0c0"/>
<rect x="699" y="464" width="3" height="1" fill="#c0c0c0"/>
<rect x="703" y="464" width="3" height="1" fill="#c0c0c0"/>
<rect x="707" y="464" width="3" height="1" fill="#c0c0c0"/>
<rect x="711" y="464" width="3" height="1" fill="#c0c0c0"/>
<rect x="715" y="463" width="3" height="1" fill="#c0c0c0"/>
<rect x="719" y="458" width="3" height="6" fill="#c0c0c0"/>
<rect x="723" y="455" width="3" height="9" fill="#c0c0c0"/>
<rect x="727" y="446" width="3" height="18" fill="#c0c0c0"/>
<rect x="731" y="442" width="3" height="22" fill="#c0c0c0"/>
<rect x="735" y="437" width="3" height="27" fill="#c0c0c0"/>
<rect x="739" y="434" width="3" height="30" fill="#c0c0c0"/>
<rect x="743" y="431" width="3" height="33" fill="#c0c0c0"/>
<rect x="747" y="429" width="3" height="35" fill="#c0c0c0"/>
<rect x="751" y="428" width="3" height="36" fill="#c0c0c0"/>
<rect x="755" y="431" width="3" height="33" fill="#c0c0c0"/>
<rect x="759" y="433" width="3" height="31" fill="#c0c0c0"/>
<rect x="763" y="434" width="3" height="30" fill="#c0c0c0"/>
<rect x="767" y="436" width="3" height="28" fill="#c0c0c0"/>
<rect x="771" y="437" width="3" height="27" fill="#c0c0c0"/>
<rect x="775" y="438" width="3" height="26" fill="#c0c0c0"/>
<rect x="779" y="439" width="3" height="25" fill="#c0c0c0"/>
<rect x="783" y="440" width="3" height="24" fill="#c0c0c0"/>
<rect x="787" y="439" width="3" height="25" fill="#c0c0c0"/>
<rect x="791" y="438" width="3" height="26" fill="#c0c0c0"/>
<rect x="795" y="436" width="3" height="28" fill="#c0c0c0"/>
<rect x="799" y="433" width="3" height="31" fill="#c0c0c0"/>
<rect x="803" y="432" width="3" height="32" fill="#c0c0c0"/>
<rect x="807" y="431" width="3" height="33" fill="#c0c0c0"/>
<rect x="811" y="432" width="3" height="32" fill="#c0c0c0"/>
<rect x="815" y="432" width="3" height="32" fill="#c0c0c0"/>
<rect x="819" y="432" width="3" height="32" fill="#c0c0c0"/>
<rect x="823" y="432" width="3" height="32" fill="#c0c0c0"/>
<rect x="827" y="433" width="3" height="31" fill="#c0c0c0"/>
<rect x="831" y="434" width="3" height="30" fill="#c0c0c0"/>
<rect x="835" y="437" width="3" height="27" fill="#c0c0c0"/>
<rect x="839" y="440" width="3" height="24" fill="#c0c0c0"/>
<rect x="843" y="444" width="3" height="20" fill="#c0c0c0"/>
<rect x="847" y="446" width="3" height="18" fill="#c0c0c0"/>
<rect x="851" y="449" width="3" height="15" fill="#c0c0c0"/>
<rect x="855" y="451" width="3" height="13" fill="#c0c0c0"/>
<rect x="859" y="455" width="3" height="9" fill="#c0c0c0"/>
<rect x="863" y="460" width="3" height="4" fill="#c0c0c0"/>
<rect x="867" y="464" width="3" height="1" fill="#c0c0c0"/>
<rect x="871" y="464" width="3" height="2" fill="#c0c0c0"/>
<rect x="875" y="464" width="3" height="2" fill="#c0c0c0"/>
<rect x="879" y="464" width="3" height="2" fill="#c0c0c0"/>
<rect x="883" y="464" width="3" height="1" fill="#c0c0c0"/>
<rect x="887" y="464" width="3" height="2" fill="#c0c0c0"/>
<rect x="891" y="464" width="3" height="1" fill="#c0c0c0"/>
<rect x="895" y="462" width="3" height="2" fill="#c0c0c0"/>
<rect x="899" y="461" width="3" height="3" fill="#c0c0c0"/>
<rect x="903" y="460" width="3" height="4" fill="#c0c0c0"/>
<rect x="907" y="459" width="3" height="5" fill="#c0c0c0"/>
<rect x="911" y="458" width="3" height="6" fill="#c0c0c0"/>
<rect x="915" y="456" width="3" height="8" fill="#c0c0c0"/>
<rect x="919" y="456" width="3" height="8" fill="#c0c0c0"/>
<rect x="923" y="455" width="3" height="9" fill="#c0c0c0"/>
<rect x="4" y="108" width="1162" height="2" fill="#ff0000"/>
<rect x="3" y="106" width="6" height="6" fill="#ff0000"/>
<rect x="5" y="108" width="2" height="2" fill="#fff"/>
<rect x="1160" y="106" width="6" height="6" fill="#ff0000"/>
<rect x="1162" y="108" width="2" height="2" fill="#fff"/>
<rect x="4" y="178" width="1162" height="2" fill="#00ff00"/>
<rect x="3" y="176" width="6" height="6" fill="#00ff00"/>
<rect x="5" y="178" width="2" height="2" fill="#fff"/>
<rect x="1160" y="176" width="6" height="6" fill="#00ff00"/>
<rect x="1162" y="178" width="2" height="2" fill="#fff"/>
<rect x="4" y="247" width="1162" height="2" fill="#0000ff"/>
<rect x="3" y="245" width="6" height="6" fill="#0000ff"/>
<rect x="5" y="247" width="2" height="2" fill="#fff"/>
<rect x="1160" y="245" width="6" height="6" fill="#0000ff"/>
<rect x="1162" y="247" width="2" height="2" fill="#fff"/>
<rect x="4" y="303" width="1162" height="2" fill="#0000ff"/>
<rect x="3" y="301" width="6" height="6" fill="#0000ff"/>
<rect x="5" y="303" width="2" height="2" fill="#fff"/>
<rect x="1160" y="301" width="6" height="6" fill="#0000ff"/>
<rect x="1162" y="303" width="2" height="2" fill="#fff"/>
</g>
<g shape-rendering="crispEdges" stroke-linejoin="round">
<path d="M855 86h5v1h-5zM851 87h4v1h-4zM860 87h4v1h-4zM849 88h2v1h-2zM864 88h2v1h-2zM847 89h2v1h-2zM866 89h3v1h-3zM845 90h2v1h-2zM869 90h2v1h-2zM844 91h1v1h-1zM871 91h2v1h-2zM842 92h2v1h-2zM873 92h2v1h-2zM841 93h1v1h-1zM875 93h2v1h-2zM840 94h1v1h-1zM877 94h2v1h-2zM839 95h1v1h-1zM879 95h2v1h-2zM837 96h2v1h-2zM881 96h1v1h-1zM836 97h1v1h-1zM882 97h1v1h-1zM835 98h1v1h-1zM883 98h2v1h-2zM834 99h1v1h-1zM885 99h1v1h-1zM833 100h1v1h-1zM886 100h2v1h-2zM831 101h2v1h-2zM888 101h2v1h-2zM830 102h1v1h-1zM890 102h5v1h-5zM828 103h2v1h-2zM895 103h1v1h-1zM827 104h1v1h-1zM896 104h2v1h-2zM825 105h2v1h-2zM898 105h2v1h-2zM824 106h1v1h-1zM900 106h3v1h-3zM822 107h2v1h-2zM903 107h2v1h-2zM922 107h2v1h-2zM821 108h1v1h-1zM905 108h2v1h-2zM920 108h2v1h-2zM820 109h1v1h-1zM907 109h2v1h-2zM918 109h2v1h-2zM818 110h2v1h-2zM909 110h9v1h-9zM817 111h1v1h-1zM816 112h1v1h-1zM815 113h1v1h-1zM813 114h2v1h-2zM812 115h1v1h-1zM811 116h1v1h-1zM810 117h1v1h-1zM808 118h2v1h-2zM807 119h1v1h-1zM806 120h1v1h-1zM804 121h2v1h-2zM803 122h1v1h-1zM802 123h1v1h-1zM802 124h1v1h-1zM801 125h1v1h-1zM801 126h1v1h-1zM800 127h1v1h-1zM800 128h1v1h-1zM799 129h1v1h-1zM799 130h1v1h-1zM798 131h1v1h-1zM797 132h1v1h-1zM797 133h1v1h-1zM796 134h1v1h-1zM796 135h1v1h-1zM795 136h1v1h-1zM795 137h1v1h-1zM794 138h1v1h-1zM794 139h1v1h-1zM793 140h1v1h-1zM793 141h1v1h-1zM792 142h1v1h-1zM792 143h1v1h-1zM791 144h1v1h-1zM791 145h1v1h-1zM790 146h1v1h-1zM790 147h1v1h-1zM789 148h1v1h-1zM789 149h1v1h-1zM788 150h1v1h-1zM788 151h1v1h-1zM787 152h1v1h-1zM787 153h1v1h-1zM786 154h1v1h-1zM786 155h1v1h-1zM785 156h1v1h-1zM785 157h1v1h-1zM784 158h1v1h-1zM784 159h1v1h-1zM783 160h1v1h-1zM782 161h1v1h-1zM782 162h1v1h-1zM781 163h1v1h-1zM780 164h1v1h-1zM780 165h1v1h-1zM779 166h1v1h-1zM778 167h1v1h-1zM778 168h1v1h-1zM777 169h1v1h-1zM776 170h1v1h-1zM776 171h1v1h-1zM775 172h1v1h-1zM774 173h1v1h-1zM774 174h1v1h-1zM773 175h1v1h-1zM772 176h1v1h-1zM772 177h1v1h-1zM771 178h1v1h-1zM770 179h1v1h-1zM770 180h1v1h-1zM769 181h1v1h-1zM768 182h1v1h-1zM768 183h1v1h-1zM767 184h1v1h-1zM766 185h1v1h-1zM766 186h1v1h-1zM765 187h1v1h-1zM765 188h1v1h-1zM764 189h1v1h-1zM763 190h1v1h-1zM763 191h1v1h-1zM762 192h1v1h-1zM761 193h1v1h-1zM761 194h1v1h-1zM760 195h1v1h-1zM759 196h1v1h-1zM759 197h1v1h-1zM758 198h1v1h-1zM757 199h1v1h-1zM756 200h1v1h-1zM755 201h1v1h-1zM755 202h1v1h-1zM754 203h1v1h-1zM753 204h1v1h-1zM752 205h1v1h-1zM751 206h1v1h-1zM751 207h1v1h-1zM750 208h1v1h-1zM750 209h1v1h-1zM749 210h1v1h-1zM749 211h1v1h-1zM748 212h1v1h-1zM747 213h1v1h-1zM747 214h1v1h-1zM746 215h1v1h-1zM746 216h1v1h-1zM745 217h1v1h-1zM744 218h1v1h-1zM744 219h1v1h-1zM743 220h1v1h-1zM743 221h1v1h-1zM742 222h1v1h-1zM742 223h1v1h-1zM741 224h1v1h-1zM740 225h1v1h-1zM740 226h1v1h-1zM739 227h1v1h-1zM563 228h3v1h-3zM739 228h1v1h-1zM521 229h14v1h-14zM559 229h4v1h-4zM566 229h2v1h-2zM738 229h1v1h-1zM516 230h5v1h-5zM535 230h24v1h-24zM568 230h1v1h-1zM738 230h1v1h-1zM516 231h1v1h-1zM569 231h2v1h-2zM737 231h1v1h-1zM515 232h1v1h-1zM571 232h2v1h-2zM736 232h1v1h-1zM515 233h1v1h-1zM573 233h2v1h-2zM736 233h1v1h-1zM514 234h1v1h-1zM575 234h2v1h-2zM735 234h1v1h-1zM514 235h1v1h-1zM577 235h3v1h-3zM735 235h1v1h-1zM513 236h1v1h-1zM580 236h2v1h-2zM734 236h1v1h-1zM513 237h1v1h-1zM582 237h2v1h-2zM734 237h1v1h-1zM512 238h1v1h-1zM584 238h3v1h-3zM733 238h1v1h-1zM512 239h1v1h-1zM587 239h2v1h-2zM733 239h1v1h-1zM511 240h1v1h-1zM589 240h2v1h-2zM732 240h1v1h-1zM511 241h1v1h-1zM591 241h3v1h-3zM732 241h1v1h-1zM510 242h1v1h-1zM594 242h2v1h-2zM731 242h1v1h-1zM510 243h1v1h-1zM596 243h2v1h-2zM731 243h1v1h-1zM509 244h1v1h-1zM598 244h2v1h-2zM730 244h1v1h-1zM509 245h1v1h-1zM600 245h2v1h-2zM730 245h1v1h-1zM508 246h1v1h-1zM602 246h2v1h-2zM729 246h1v1h-1zM508 247h1v1h-1zM604 247h2v1h-2zM729 247h1v1h-1zM507 248h1v1h-1zM606 248h2v1h-2zM728 248h1v1h-1zM507 249h1v1h-1zM608 249h1v1h-1zM728 249h1v1h-1zM506 250h1v1h-1zM609 250h2v1h-2zM727 250h1v1h-1zM505 251h1v1h-1zM611 251h2v1h-2zM726 251h1v1h-1zM4 252h2v1h-2zM505 252h1v1h-1zM613 252h1v1h-1zM726 252h1v1h-1zM6 253h3v1h-3zM504 253h1v1h-1zM614 253h2v1h-2zM725 253h1v1h-1zM9 254h3v1h-3zM503 254h1v1h-1zM616 254h2v1h-2zM724 254h1v1h-1zM12 255h3v1h-3zM502 255h1v1h-1zM618 255h3v1h-3zM723 255h1v1h-1zM15 256h4v1h-4zM502 256h1v1h-1zM621 256h3v1h-3zM723 256h1v1h-1zM19 257h6v1h-6zM501 257h1v1h-1zM624 257h2v1h-2zM722 257h1v1h-1zM25 258h5v1h-5zM500 258h1v1h-1zM626 258h3v1h-3zM721 258h1v1h-1zM30 259h3v1h-3zM500 259h1v1h-1zM629 259h2v1h-2zM720 259h1v1h-1zM33 260h2v1h-2zM499 260h1v1h-1zM631 260h3v1h-3zM719 260h1v1h-1zM35 261h2v1h-2zM498 261h1v1h-1zM634 261h2v1h-2zM718 261h1v1h-1zM37 262h1v1h-1zM497 262h1v1h-1zM636 262h2v1h-2zM673 262h45v1h-45zM38 263h2v1h-2zM497 263h1v1h-1zM638 263h8v1h-8zM660 263h13v1h-13zM40 264h1v1h-1zM496 264h1v1h-1zM646 264h14v1h-14zM41 265h1v1h-1zM495 265h1v1h-1zM42 266h1v1h-1zM495 266h1v1h-1zM43 267h1v1h-1zM494 267h1v1h-1zM44 268h1v1h-1zM494 268h1v1h-1zM45 269h1v1h-1zM493 269h1v1h-1zM46 270h1v1h-1zM493 270h1v1h-1zM47 271h1v1h-1zM492 271h1v1h-1zM48 272h1v1h-1zM492 272h1v1h-1zM48 273h1v1h-1zM491 273h1v1h-1zM49 274h1v1h-1zM490 274h1v1h-1zM50 275h1v1h-1zM490 275h1v1h-1zM51 276h1v1h-1zM489 276h1v1h-1zM51 277h1v1h-1zM489 277h1v1h-1zM52 278h1v1h-1zM488 278h1v1h-1zM53 279h1v1h-1zM488 279h1v1h-1zM54 280h1v1h-1zM487 280h1v1h-1zM55 281h1v1h-1zM486 281h1v1h-1zM55 282h1v1h-1zM486 282h1v1h-1zM56 283h1v1h-1zM485 283h1v1h-1zM57 284h1v1h-1zM485 284h1v1h-1zM58 285h1v1h-1zM484 285h1v1h-1zM59 286h1v1h-1zM484 286h1v1h-1zM60 287h1v1h-1zM483 287h1v1h-1zM60 288h1v1h-1zM482 288h1v1h-1zM61 289h1v1h-1zM482 289h1v1h-1zM62 290h1v1h-1zM481 290h1v1h-1zM63 291h1v1h-1zM481 291h1v1h-1zM64 292h1v1h-1zM480 292h1v1h-1zM65 293h1v1h-1zM480 293h1v1h-1zM66 294h1v1h-1zM479 294h1v1h-1zM67 295h2v1h-2zM479 295h1v1h-1zM69 296h1v1h-1zM478 296h1v1h-1zM70 297h1v1h-1zM477 297h1v1h-1zM71 298h1v1h-1zM477 298h1v1h-1zM72 299h1v1h-1zM476 299h1v1h-1zM73 300h2v1h-2zM476 300h1v1h-1zM75 301h2v1h-2zM475 301h1v1h-1zM77 302h2v1h-2zM475 302h1v1h-1zM79 303h2v1h-2zM474 303h1v1h-1zM81 304h2v1h-2zM473 304h1v1h-1zM83 305h1v1h-1zM473 305h1v1h-1zM84 306h1v1h-1zM472 306h1v1h-1zM85 307h2v1h-2zM472 307h1v1h-1zM87 308h1v1h-1zM471 308h1v1h-1zM88 309h1v1h-1zM471 309h1v1h-1zM89 310h2v1h-2zM470 310h1v1h-1zM91 311h1v1h-1zM469 311h1v1h-1zM92 312h1v1h-1zM469 312h1v1h-1zM93 313h1v1h-1zM468 313h1v1h-1zM94 314h1v1h-1zM468 314h1v1h-1zM95 315h2v1h-2zM467 315h1v1h-1zM97 316h1v1h-1zM467 316h1v1h-1zM98 317h1v1h-1zM466 317h1v1h-1zM99 318h1v1h-1zM466 318h1v1h-1zM100 319h1v1h-1zM465 319h1v1h-1zM101 320h1v1h-1zM465 320h1v1h-1zM102 321h1v1h-1zM464 321h1v1h-1zM103 322h1v1h-1zM464 322h1v1h-1zM104 323h1v1h-1zM463 323h1v1h-1zM104 324h1v1h-1zM462 324h1v1h-1zM105 325h1v1h-1zM462 325h1v1h-1zM106 326h1v1h-1zM461 326h1v1h-1zM107 327h1v1h-1zM461 327h1v1h-1zM108 328h1v1h-1zM460 328h1v1h-1zM109 329h1v1h-1zM460 329h1v1h-1zM110 330h1v1h-1zM459 330h1v1h-1zM111 331h1v1h-1zM459 331h1v1h-1zM112 332h1v1h-1zM458 332h1v1h-1zM113 333h1v1h-1zM458 333h1v1h-1zM113 334h1v1h-1zM457 334h1v1h-1zM114 335h1v1h-1zM457 335h1v1h-1zM115 336h1v1h-1zM456 336h1v1h-1zM116 337h2v1h-2zM456 337h1v1h-1zM118 338h2v1h-2zM455 338h1v1h-1zM120 339h2v1h-2zM455 339h1v1h-1zM122 340h40v1h-40zM454 340h1v1h-1zM162 341h4v1h-4zM454 341h1v1h-1zM166 342h4v1h-4zM453 342h1v1h-1zM170 343h2v1h-2zM178 343h8v1h-8zM453 343h1v1h-1zM172 344h6v1h-6zM186 344h4v1h-4zM452 344h1v1h-1zM190 345h4v1h-4zM452 345h1v1h-1zM194 346h3v1h-3zM452 346h1v1h-1zM197 347h2v1h-2zM451 347h1v1h-1zM199 348h2v1h-2zM451 348h1v1h-1zM201 349h2v1h-2zM450 349h1v1h-1zM203 350h2v1h-2zM450 350h1v1h-1zM205 351h1v1h-1zM449 351h1v1h-1zM206 352h2v1h-2zM449 352h1v1h-1zM208 353h1v1h-1zM448 353h1v1h-1zM209 354h2v1h-2zM448 354h1v1h-1zM211 355h2v1h-2zM447 355h1v1h-1zM213 356h2v1h-2zM447 356h1v1h-1zM215 357h2v1h-2zM446 357h1v1h-1zM217 358h2v1h-2zM446 358h1v1h-1zM219 359h2v1h-2zM445 359h1v1h-1zM221 360h1v1h-1zM445 360h1v1h-1zM222 361h2v1h-2zM444 361h1v1h-1zM224 362h1v1h-1zM443 362h1v1h-1zM225 363h1v1h-1zM443 363h1v1h-1zM226 364h2v1h-2zM442 364h1v1h-1zM228 365h1v1h-1zM441 365h1v1h-1zM229 366h2v1h-2zM441 366h1v1h-1zM231 367h1v1h-1zM440 367h1v1h-1zM232 368h2v1h-2zM440 368h1v1h-1zM234 369h1v1h-1zM439 369h1v1h-1zM235 370h2v1h-2zM438 370h1v1h-1zM237 371h3v1h-3zM438 371h1v1h-1zM240 372h2v1h-2zM434 372h4v1h-4zM242 373h3v1h-3zM427 373h7v1h-7zM245 374h2v1h-2zM351 374h10v1h-10zM418 374h9v1h-9zM247 375h2v1h-2zM302 375h49v1h-49zM361 375h7v1h-7zM411 375h7v1h-7zM249 376h2v1h-2zM298 376h4v1h-4zM368 376h4v1h-4zM407 376h4v1h-4zM251 377h2v1h-2zM294 377h4v1h-4zM372 377h4v1h-4zM404 377h3v1h-3zM253 378h3v1h-3zM289 378h5v1h-5zM376 378h6v1h-6zM398 378h6v1h-6zM256 379h2v1h-2zM282 379h7v1h-7zM382 379h16v1h-16zM258 380h3v1h-3zM274 380h8v1h-8zM261 381h13v1h-13z" fill="#ff00ff"/>
<path d="M846 76h9v1h-9zM843 77h3v1h-3zM855 77h1v1h-1zM841 78h2v1h-2zM856 78h2v1h-2zM839 79h2v1h-2zM858 79h1v1h-1zM838 80h1v1h-1zM859 80h1v1h-1zM837 81h1v1h-1zM859 81h1v1h-1zM835 82h2v1h-2zM860 82h1v1h-1zM834 83h1v1h-1zM861 83h1v1h-1zM833 84h1v1h-1zM861 84h1v1h-1zM832 85h1v1h-1zM862 85h1v1h-1zM831 86h1v1h-1zM863 86h1v1h-1zM831 87h1v1h-1zM863 87h1v1h-1zM830 88h1v1h-1zM864 88h1v1h-1zM829 89h1v1h-1zM865 89h1v1h-1zM828 90h1v1h-1zM865 90h1v1h-1zM827 91h1v1h-1zM866 91h1v1h-1zM827 92h1v1h-1zM867 92h1v1h-1zM826 93h1v1h-1zM867 93h1v1h-1zM825 94h1v1h-1zM868 94h1v1h-1zM825 95h1v1h-1zM869 95h1v1h-1zM824 96h1v1h-1zM870 96h2v1h-2zM823 97h1v1h-1zM872 97h1v1h-1zM823 98h1v1h-1zM873 98h1v1h-1zM822 99h1v1h-1zM874 99h1v1h-1zM821 100h1v1h-1zM875 100h1v1h-1zM821 101h1v1h-1zM876 101h1v1h-1zM820 102h1v1h-1zM877 102h1v1h-1zM819 103h1v1h-1zM878 103h1v1h-1zM819 104h1v1h-1zM879 104h1v1h-1zM818 105h1v1h-1zM880 105h1v1h-1zM923 105h1v1h-1zM818 106h1v1h-1zM881 106h1v1h-1zM922 106h1v1h-1zM817 107h1v1h-1zM882 107h1v1h-1zM922 107h1v1h-1zM817 108h1v1h-1zM883 108h1v1h-1zM921 108h1v1h-1zM816 109h1v1h-1zM884 109h1v1h-1zM919 109h2v1h-2zM815 110h1v1h-1zM885 110h1v1h-1zM918 110h1v1h-1zM815 111h1v1h-1zM886 111h1v1h-1zM917 111h1v1h-1zM814 112h1v1h-1zM887 112h1v1h-1zM915 112h2v1h-2zM814 113h1v1h-1zM888 113h2v1h-2zM913 113h2v1h-2zM812 114h2v1h-2zM890 114h1v1h-1zM911 114h2v1h-2zM810 115h2v1h-2zM891 115h2v1h-2zM907 115h4v1h-4zM809 116h1v1h-1zM893 116h3v1h-3zM902 116h5v1h-5zM807 117h2v1h-2zM896 117h6v1h-6zM806 118h1v1h-1zM805 119h1v1h-1zM804 120h1v1h-1zM803 121h1v1h-1zM801 122h2v1h-2zM800 123h1v1h-1zM799 124h1v1h-1zM798 125h1v1h-1zM797 126h1v1h-1zM796 127h1v1h-1zM794 128h2v1h-2zM793 129h1v1h-1zM792 130h1v1h-1zM790 131h2v1h-2zM788 132h2v1h-2zM786 133h2v1h-2zM785 134h1v1h-1zM783 135h2v1h-2zM782 136h1v1h-1zM780 137h2v1h-2zM779 138h1v1h-1zM778 139h1v1h-1zM778 140h1v1h-1zM777 141h1v1h-1zM777 142h1v1h-1zM776 143h1v1h-1zM775 144h1v1h-1zM775 145h1v1h-1zM774 146h1v1h-1zM774 147h1v1h-1zM773 148h1v1h-1zM773 149h1v1h-1zM772 150h1v1h-1zM772 151h1v1h-1zM771 152h1v1h-1zM771 153h1v1h-1zM770 154h1v1h-1zM770 155h1v1h-1zM769 156h1v1h-1zM768 157h1v1h-1zM768 158h1v1h-1zM767 159h1v1h-1zM767 160h1v1h-1zM766 161h1v1h-1zM766 162h1v1h-1zM765 163h1v1h-1zM764 164h1v1h-1zM764 165h1v1h-1zM763 166h1v1h-1zM763 167h1v1h-1zM762 168h1v1h-1zM761 169h1v1h-1zM761 170h1v1h-1zM760 171h1v1h-1zM760 172h1v1h-1zM759 173h1v1h-1zM759 174h1v1h-1zM758 175h1v1h-1zM758 176h1v1h-1zM757 177h1v1h-1zM756 178h1v1h-1zM756 179h1v1h-1zM755 180h1v1h-1zM755 181h1v1h-1zM754 182h1v1h-1zM754 183h1v1h-1zM753 184h1v1h-1zM753 185h1v1h-1zM752 186h1v1h-1zM752 187h1v1h-1zM752 188h1v1h-1zM751 189h1v1h-1zM751 190h1v1h-1zM750 191h1v1h-1zM750 192h1v1h-1zM750 193h1v1h-1zM749 194h1v1h-1zM749 195h1v1h-1zM748 196h1v1h-1zM748 197h1v1h-1zM747 198h1v1h-1zM747 199h1v1h-1zM746 200h1v1h-1zM746 201h1v1h-1zM745 202h1v1h-1zM745 203h1v1h-1zM744 204h1v1h-1zM744 205h1v1h-1zM743 206h1v1h-1zM743 207h1v1h-1zM742 208h1v1h-1zM742 209h1v1h-1zM741 210h1v1h-1zM741 211h1v1h-1zM741 212h1v1h-1zM740 213h1v1h-1zM740 214h1v1h-1zM739 215h1v1h-1zM739 216h1v1h-1zM738 217h1v1h-1zM738 218h1v1h-1zM737 219h1v1h-1zM737 220h1v1h-1zM737 221h1v1h-1zM736 222h1v1h-1zM736 223h1v1h-1zM735 224h1v1h-1zM735 225h1v1h-1zM735 226h1v1h-1zM734 227h1v1h-1zM554 228h12v1h-12zM734 228h1v1h-1zM548 229h6v1h-6zM566 229h2v1h-2zM733 229h1v1h-1zM506 230h19v1h-19zM538 230h10v1h-10zM568 230h1v1h-1zM733 230h1v1h-1zM502 231h4v1h-4zM525 231h13v1h-13zM569 231h2v1h-2zM733 231h1v1h-1zM500 232h2v1h-2zM571 232h1v1h-1zM732 232h1v1h-1zM499 233h1v1h-1zM572 233h2v1h-2zM732 233h1v1h-1zM498 234h1v1h-1zM574 234h2v1h-2zM731 234h1v1h-1zM497 235h1v1h-1zM576 235h1v1h-1zM731 235h1v1h-1zM497 236h1v1h-1zM577 236h2v1h-2zM731 236h1v1h-1zM496 237h1v1h-1zM579 237h1v1h-1zM730 237h1v1h-1zM495 238h1v1h-1zM580 238h1v1h-1zM730 238h1v1h-1zM494 239h1v1h-1zM581 239h2v1h-2zM729 239h1v1h-1zM493 240h1v1h-1zM583 240h1v1h-1zM729 240h1v1h-1zM493 241h1v1h-1zM584 241h2v1h-2zM729 241h1v1h-1zM492 242h1v1h-1zM586 242h1v1h-1zM728 242h1v1h-1zM492 243h1v1h-1zM587 243h1v1h-1zM728 243h1v1h-1zM491 244h1v1h-1zM588 244h2v1h-2zM727 244h1v1h-1zM491 245h1v1h-1zM590 245h1v1h-1zM727 245h1v1h-1zM490 246h1v1h-1zM591 246h1v1h-1zM727 246h1v1h-1zM490 247h1v1h-1zM592 247h2v1h-2zM726 247h1v1h-1zM489 248h1v1h-1zM594 248h1v1h-1zM726 248h1v1h-1zM489 249h1v1h-1zM595 249h1v1h-1zM725 249h1v1h-1zM488 250h1v1h-1zM596 250h2v1h-2zM725 250h1v1h-1zM488 251h1v1h-1zM598 251h1v1h-1zM724 251h1v1h-1zM487 252h1v1h-1zM599 252h1v1h-1zM724 252h1v1h-1zM487 253h1v1h-1zM600 253h2v1h-2zM723 253h1v1h-1zM4 254h7v1h-7zM486 254h1v1h-1zM602 254h1v1h-1zM722 254h1v1h-1zM11 255h2v1h-2zM486 255h1v1h-1zM603 255h2v1h-2zM722 255h1v1h-1zM13 256h1v1h-1zM486 256h1v1h-1zM605 256h1v1h-1zM721 256h1v1h-1zM14 257h2v1h-2zM485 257h1v1h-1zM606 257h2v1h-2zM720 257h1v1h-1zM16 258h2v1h-2zM485 258h1v1h-1zM608 258h2v1h-2zM719 258h1v1h-1zM18 259h3v1h-3zM484 259h1v1h-1zM610 259h1v1h-1zM718 259h1v1h-1zM21 260h3v1h-3zM484 260h1v1h-1zM611 260h2v1h-2zM717 260h1v1h-1zM24 261h3v1h-3zM483 261h1v1h-1zM613 261h1v1h-1zM676 261h10v1h-10zM712 261h5v1h-5zM27 262h2v1h-2zM483 262h1v1h-1zM614 262h1v1h-1zM670 262h6v1h-6zM686 262h26v1h-26zM29 263h2v1h-2zM483 263h1v1h-1zM615 263h2v1h-2zM637 263h33v1h-33zM31 264h1v1h-1zM482 264h1v1h-1zM617 264h3v1h-3zM632 264h5v1h-5zM32 265h2v1h-2zM482 265h1v1h-1zM620 265h4v1h-4zM628 265h4v1h-4zM34 266h1v1h-1zM481 266h1v1h-1zM624 266h4v1h-4zM35 267h1v1h-1zM481 267h1v1h-1zM36 268h1v1h-1zM480 268h1v1h-1zM37 269h1v1h-1zM480 269h1v1h-1zM38 270h1v1h-1zM479 270h1v1h-1zM39 271h1v1h-1zM479 271h1v1h-1zM40 272h1v1h-1zM478 272h1v1h-1zM41 273h1v1h-1zM478 273h1v1h-1zM42 274h1v1h-1zM477 274h1v1h-1zM42 275h1v1h-1zM477 275h1v1h-1zM43 276h1v1h-1zM476 276h1v1h-1zM44 277h1v1h-1zM476 277h1v1h-1zM45 278h1v1h-1zM475 278h1v1h-1zM45 279h1v1h-1zM475 279h1v1h-1zM46 280h1v1h-1zM474 280h1v1h-1zM47 281h1v1h-1zM474 281h1v1h-1zM48 282h1v1h-1zM473 282h1v1h-1zM49 283h1v1h-1zM473 283h1v1h-1zM50 284h1v1h-1zM472 284h1v1h-1zM51 285h1v1h-1zM472 285h1v1h-1zM51 286h1v1h-1zM471 286h1v1h-1zM52 287h1v1h-1zM471 287h1v1h-1zM53 288h1v1h-1zM470 288h1v1h-1zM54 289h1v1h-1zM470 289h1v1h-1zM55 290h1v1h-1zM469 290h1v1h-1zM56 291h1v1h-1zM469 291h1v1h-1zM57 292h1v1h-1zM468 292h1v1h-1zM57 293h1v1h-1zM468 293h1v1h-1zM58 294h1v1h-1zM467 294h1v1h-1zM59 295h1v1h-1zM467 295h1v1h-1zM60 296h1v1h-1zM467 296h1v1h-1zM61 297h1v1h-1zM466 297h1v1h-1zM61 298h1v1h-1zM466 298h1v1h-1zM62 299h1v1h-1zM465 299h1v1h-1zM63 300h1v1h-1zM465 300h1v1h-1zM64 301h1v1h-1zM464 301h1v1h-1zM65 302h1v1h-1zM464 302h1v1h-1zM66 303h2v1h-2zM463 303h1v1h-1zM68 304h1v1h-1zM463 304h1v1h-1zM69 305h1v1h-1zM462 305h1v1h-1zM70 306h1v1h-1zM462 306h1v1h-1zM71 307h1v1h-1zM461 307h1v1h-1zM72 308h1v1h-1zM461 308h1v1h-1zM73 309h1v1h-1zM460 309h1v1h-1zM74 310h1v1h-1zM460 310h1v1h-1zM75 311h1v1h-1zM460 311h1v1h-1zM76 312h1v1h-1zM459 312h1v1h-1zM77 313h1v1h-1zM459 313h1v1h-1zM78 314h1v1h-1zM459 314h1v1h-1zM79 315h1v1h-1zM458 315h1v1h-1zM80 316h1v1h-1zM458 316h1v1h-1zM81 317h1v1h-1zM457 317h1v1h-1zM82 318h1v1h-1zM457 318h1v1h-1zM83 319h1v1h-1zM457 319h1v1h-1zM84 320h1v1h-1zM456 320h1v1h-1zM85 321h2v1h-2zM456 321h1v1h-1zM87 322h2v1h-2zM456 322h1v1h-1zM89 323h2v1h-2zM455 323h1v1h-1zM91 324h2v1h-2zM455 324h1v1h-1zM93 325h1v1h-1zM454 325h1v1h-1zM94 326h1v1h-1zM454 326h1v1h-1zM95 327h1v1h-1zM454 327h1v1h-1zM96 328h1v1h-1zM453 328h1v1h-1zM97 329h1v1h-1zM453 329h1v1h-1zM98 330h1v1h-1zM453 330h1v1h-1zM99 331h1v1h-1zM452 331h1v1h-1zM100 332h2v1h-2zM452 332h1v1h-1zM102 333h2v1h-2zM451 333h1v1h-1zM104 334h2v1h-2zM451 334h1v1h-1zM106 335h3v1h-3zM451 335h1v1h-1zM109 336h2v1h-2zM176 336h7v1h-7zM450 336h1v1h-1zM111 337h3v1h-3zM174 337h2v1h-2zM183 337h2v1h-2zM450 337h1v1h-1zM114 338h3v1h-3zM173 338h1v1h-1zM185 338h1v1h-1zM449 338h1v1h-1zM117 339h4v1h-4zM172 339h1v1h-1zM186 339h2v1h-2zM449 339h1v1h-1zM121 340h11v1h-11zM170 340h2v1h-2zM188 340h1v1h-1zM448 340h1v1h-1zM132 341h2v1h-2zM168 341h2v1h-2zM189 341h2v1h-2zM448 341h1v1h-1zM134 342h1v1h-1zM166 342h2v1h-2zM191 342h1v1h-1zM447 342h1v1h-1zM135 343h2v1h-2zM163 343h3v1h-3zM192 343h2v1h-2zM447 343h1v1h-1zM137 344h2v1h-2zM161 344h2v1h-2zM194 344h1v1h-1zM446 344h1v1h-1zM139 345h3v1h-3zM157 345h4v1h-4zM195 345h2v1h-2zM446 345h1v1h-1zM142 346h4v1h-4zM151 346h6v1h-6zM197 346h1v1h-1zM445 346h1v1h-1zM146 347h5v1h-5zM198 347h1v1h-1zM445 347h1v1h-1zM199 348h1v1h-1zM444 348h1v1h-1zM199 349h1v1h-1zM444 349h1v1h-1zM200 350h1v1h-1zM443 350h1v1h-1zM201 351h1v1h-1zM443 351h1v1h-1zM202 352h1v1h-1zM443 352h1v1h-1zM203 353h1v1h-1zM442 353h1v1h-1zM204 354h1v1h-1zM442 354h1v1h-1zM204 355h1v1h-1zM442 355h1v1h-1zM205 356h1v1h-1zM441 356h1v1h-1zM206 357h1v1h-1zM441 357h1v1h-1zM207 358h1v1h-1zM440 358h1v1h-1zM208 359h1v1h-1zM440 359h1v1h-1zM209 360h1v1h-1zM440 360h1v1h-1zM210 361h1v1h-1zM439 361h1v1h-1zM211 362h1v1h-1zM439 362h1v1h-1zM212 363h1v1h-1zM439 363h1v1h-1zM213 364h1v1h-1zM438 364h1v1h-1zM214 365h1v1h-1zM438 365h1v1h-1zM215 366h1v1h-1zM436 366h2v1h-2zM216 367h1v1h-1zM434 367h2v1h-2zM217 368h2v1h-2zM432 368h2v1h-2zM219 369h1v1h-1zM430 369h2v1h-2zM220 370h2v1h-2zM427 370h3v1h-3zM222 371h1v1h-1zM425 371h2v1h-2zM223 372h1v1h-1zM423 372h2v1h-2zM224 373h1v1h-1zM421 373h2v1h-2zM225 374h1v1h-1zM343 374h16v1h-16zM411 374h10v1h-10zM226 375h2v1h-2zM304 375h39v1h-39zM359 375h2v1h-2zM408 375h3v1h-3zM228 376h1v1h-1zM287 376h17v1h-17zM361 376h3v1h-3zM406 376h2v1h-2zM229 377h1v1h-1zM271 377h8v1h-8zM285 377h2v1h-2zM364 377h4v1h-4zM402 377h4v1h-4zM230 378h1v1h-1zM266 378h5v1h-5zM279 378h6v1h-6zM368 378h4v1h-4zM398 378h4v1h-4zM231 379h1v1h-1zM263 379h3v1h-3zM372 379h4v1h-4zM395 379h3v1h-3zM232 380h2v1h-2zM261 380h2v1h-2zM376 380h4v1h-4zM393 380h2v1h-2zM234 381h1v1h-1zM258 381h3v1h-3zM380 381h4v1h-4zM388 381h5v1h-5zM235 382h2v1h-2zM246 382h12v1h-12zM384 382h4v1h-4zM237 383h3v1h-3zM243 383h3v1h-3zM240 384h3v1h-3z" fill="#ff0000"/>
<path d="M828 62h3v1h-3zM826 63h2v1h-2zM831 63h3v1h-3zM823 64h3v1h-3zM834 64h2v1h-2zM819 65h4v1h-4zM836 65h1v1h-1zM816 66h3v1h-3zM836 66h1v1h-1zM814 67h2v1h-2zM837 67h1v1h-1zM813 68h1v1h-1zM838 68h1v1h-1zM812 69h1v1h-1zM838 69h1v1h-1zM811 70h1v1h-1zM839 70h1v1h-1zM811 71h1v1h-1zM840 71h1v1h-1zM810 72h1v1h-1zM840 72h1v1h-1zM809 73h1v1h-1zM841 73h1v1h-1zM809 74h1v1h-1zM841 74h1v1h-1zM808 75h1v1h-1zM842 75h1v1h-1zM808 76h1v1h-1zM842 76h1v1h-1zM807 77h1v1h-1zM842 77h1v1h-1zM807 78h1v1h-1zM843 78h1v1h-1zM806 79h1v1h-1zM843 79h1v1h-1zM806 80h1v1h-1zM844 80h1v1h-1zM805 81h1v1h-1zM844 81h1v1h-1zM805 82h1v1h-1zM844 82h1v1h-1zM924 82h1v1h-1zM804 83h1v1h-1zM845 83h1v1h-1zM922 83h2v1h-2zM804 84h1v1h-1zM845 84h1v1h-1zM921 84h1v1h-1zM804 85h1v1h-1zM845 85h1v1h-1zM919 85h2v1h-2zM803 86h1v1h-1zM846 86h1v1h-1zM918 86h1v1h-1zM803 87h1v1h-1zM846 87h1v1h-1zM917 87h1v1h-1zM803 88h1v1h-1zM847 88h1v1h-1zM916 88h1v1h-1zM802 89h1v1h-1zM847 89h1v1h-1zM915 89h1v1h-1zM802 90h1v1h-1zM848 90h1v1h-1zM914 90h1v1h-1zM802 91h1v1h-1zM848 91h1v1h-1zM913 91h1v1h-1zM801 92h1v1h-1zM849 92h1v1h-1zM912 92h1v1h-1zM801 93h1v1h-1zM849 93h1v1h-1zM911 93h1v1h-1zM801 94h1v1h-1zM850 94h1v1h-1zM910 94h1v1h-1zM800 95h1v1h-1zM850 95h1v1h-1zM909 95h1v1h-1zM800 96h1v1h-1zM851 96h1v1h-1zM909 96h1v1h-1zM800 97h1v1h-1zM852 97h1v1h-1zM908 97h1v1h-1zM800 98h1v1h-1zM852 98h1v1h-1zM907 98h1v1h-1zM799 99h1v1h-1zM853 99h1v1h-1zM906 99h1v1h-1zM799 100h1v1h-1zM854 100h1v1h-1zM905 100h1v1h-1zM799 101h1v1h-1zM854 101h1v1h-1zM904 101h1v1h-1zM799 102h1v1h-1zM855 102h1v1h-1zM904 102h1v1h-1zM798 103h1v1h-1zM856 103h1v1h-1zM903 103h1v1h-1zM798 104h1v1h-1zM857 104h1v1h-1zM902 104h1v1h-1zM798 105h1v1h-1zM857 105h1v1h-1zM901 105h1v1h-1zM798 106h1v1h-1zM858 106h1v1h-1zM900 106h1v1h-1zM797 107h1v1h-1zM858 107h1v1h-1zM899 107h1v1h-1zM797 108h1v1h-1zM859 108h1v1h-1zM898 108h1v1h-1zM797 109h1v1h-1zM859 109h1v1h-1zM897 109h1v1h-1zM796 110h1v1h-1zM860 110h1v1h-1zM896 110h1v1h-1zM796 111h1v1h-1zM860 111h1v1h-1zM895 111h1v1h-1zM796 112h1v1h-1zM861 112h1v1h-1zM895 112h1v1h-1zM795 113h1v1h-1zM861 113h1v1h-1zM894 113h1v1h-1zM795 114h1v1h-1zM862 114h1v1h-1zM893 114h1v1h-1zM795 115h1v1h-1zM862 115h1v1h-1zM892 115h1v1h-1zM794 116h1v1h-1zM863 116h1v1h-1zM892 116h1v1h-1zM794 117h1v1h-1zM863 117h1v1h-1zM891 117h1v1h-1zM752 118h1v1h-1zM794 118h1v1h-1zM864 118h1v1h-1zM890 118h1v1h-1zM751 119h1v1h-1zM753 119h1v1h-1zM793 119h1v1h-1zM864 119h1v1h-1zM890 119h1v1h-1zM749 120h2v1h-2zM753 120h1v1h-1zM793 120h1v1h-1zM865 120h1v1h-1zM889 120h1v1h-1zM748 121h1v1h-1zM754 121h1v1h-1zM793 121h1v1h-1zM865 121h1v1h-1zM889 121h1v1h-1zM747 122h1v1h-1zM755 122h1v1h-1zM792 122h1v1h-1zM866 122h1v1h-1zM888 122h1v1h-1zM746 123h1v1h-1zM755 123h1v1h-1zM792 123h1v1h-1zM866 123h1v1h-1zM888 123h1v1h-1zM746 124h1v1h-1zM756 124h1v1h-1zM792 124h1v1h-1zM867 124h1v1h-1zM887 124h1v1h-1zM745 125h1v1h-1zM757 125h1v1h-1zM791 125h1v1h-1zM867 125h1v1h-1zM887 125h1v1h-1zM745 126h1v1h-1zM758 126h1v1h-1zM791 126h1v1h-1zM868 126h1v1h-1zM886 126h1v1h-1zM744 127h1v1h-1zM759 127h1v1h-1zM791 127h1v1h-1zM869 127h1v1h-1zM886 127h1v1h-1zM744 128h1v1h-1zM760 128h1v1h-1zM790 128h1v1h-1zM869 128h1v1h-1zM885 128h1v1h-1zM743 129h1v1h-1zM761 129h1v1h-1zM790 129h1v1h-1zM870 129h1v1h-1zM884 129h1v1h-1zM743 130h1v1h-1zM762 130h1v1h-1zM790 130h1v1h-1zM870 130h1v1h-1zM884 130h1v1h-1zM742 131h1v1h-1zM762 131h1v1h-1zM789 131h1v1h-1zM871 131h1v1h-1zM883 131h1v1h-1zM742 132h1v1h-1zM763 132h1v1h-1zM789 132h1v1h-1zM871 132h1v1h-1zM883 132h1v1h-1zM742 133h1v1h-1zM764 133h1v1h-1zM788 133h1v1h-1zM872 133h1v1h-1zM882 133h1v1h-1zM741 134h1v1h-1zM765 134h1v1h-1zM788 134h1v1h-1zM872 134h1v1h-1zM882 134h1v1h-1zM741 135h1v1h-1zM765 135h1v1h-1zM787 135h1v1h-1zM873 135h1v1h-1zM881 135h1v1h-1zM741 136h1v1h-1zM766 136h1v1h-1zM787 136h1v1h-1zM873 136h1v1h-1zM881 136h1v1h-1zM741 137h1v1h-1zM766 137h1v1h-1zM786 137h1v1h-1zM874 137h1v1h-1zM879 137h2v1h-2zM740 138h1v1h-1zM767 138h1v1h-1zM786 138h1v1h-1zM875 138h1v1h-1zM877 138h2v1h-2zM740 139h1v1h-1zM767 139h1v1h-1zM784 139h2v1h-2zM876 139h1v1h-1zM740 140h1v1h-1zM768 140h1v1h-1zM782 140h2v1h-2zM740 141h1v1h-1zM769 141h1v1h-1zM780 141h2v1h-2zM739 142h1v1h-1zM769 142h1v1h-1zM779 142h1v1h-1zM739 143h1v1h-1zM770 143h1v1h-1zM778 143h1v1h-1zM739 144h1v1h-1zM770 144h1v1h-1zM778 144h1v1h-1zM738 145h1v1h-1zM771 145h1v1h-1zM777 145h1v1h-1zM738 146h1v1h-1zM771 146h1v1h-1zM776 146h1v1h-1zM738 147h1v1h-1zM772 147h1v1h-1zM776 147h1v1h-1zM738 148h1v1h-1zM772 148h1v1h-1zM774 148h2v1h-2zM737 149h1v1h-1zM773 149h1v1h-1zM737 150h1v1h-1zM737 151h1v1h-1zM737 152h1v1h-1zM736 153h1v1h-1zM736 154h1v1h-1zM736 155h1v1h-1zM736 156h1v1h-1zM736 157h1v1h-1zM735 158h1v1h-1zM735 159h1v1h-1zM735 160h1v1h-1zM735 161h1v1h-1zM734 162h1v1h-1zM734 163h1v1h-1zM734 164h1v1h-1zM734 165h1v1h-1zM734 166h1v1h-1zM733 167h1v1h-1zM733 168h1v1h-1zM733 169h1v1h-1zM733 170h1v1h-1zM733 171h1v1h-1zM733 172h1v1h-1zM732 173h1v1h-1zM732 174h1v1h-1zM732 175h1v1h-1zM732 176h1v1h-1zM732 177h1v1h-1zM732 178h1v1h-1zM732 179h1v1h-1zM732 180h1v1h-1zM731 181h1v1h-1zM731 182h1v1h-1zM731 183h1v1h-1zM731 184h1v1h-1zM731 185h1v1h-1zM731 186h1v1h-1zM731 187h1v1h-1zM731 188h1v1h-1zM730 189h1v1h-1zM730 190h1v1h-1zM730 191h1v1h-1zM730 192h1v1h-1zM730 193h1v1h-1zM730 194h1v1h-1zM730 195h1v1h-1zM729 196h1v1h-1zM729 197h1v1h-1zM729 198h1v1h-1zM729 199h1v1h-1zM729 200h1v1h-1zM729 201h1v1h-1zM728 202h1v1h-1zM728 203h1v1h-1zM728 204h1v1h-1zM728 205h1v1h-1zM728 206h1v1h-1zM728 207h1v1h-1zM727 208h1v1h-1zM727 209h1v1h-1zM727 210h1v1h-1zM727 211h1v1h-1zM727 212h1v1h-1zM727 213h1v1h-1zM726 214h1v1h-1zM726 215h1v1h-1zM726 216h1v1h-1zM726 217h1v1h-1zM726 218h1v1h-1zM726 219h1v1h-1zM726 220h1v1h-1zM725 221h1v1h-1zM725 222h1v1h-1zM469 223h7v1h-7zM725 223h1v1h-1zM468 224h1v1h-1zM476 224h1v1h-1zM537 224h10v1h-10zM725 224h1v1h-1zM467 225h1v1h-1zM477 225h1v1h-1zM535 225h2v1h-2zM547 225h4v1h-4zM725 225h1v1h-1zM466 226h1v1h-1zM478 226h2v1h-2zM533 226h2v1h-2zM551 226h4v1h-4zM725 226h1v1h-1zM466 227h1v1h-1zM480 227h1v1h-1zM529 227h4v1h-4zM555 227h6v1h-6zM725 227h1v1h-1zM465 228h1v1h-1zM481 228h1v1h-1zM525 228h4v1h-4zM561 228h3v1h-3zM725 228h1v1h-1zM464 229h1v1h-1zM482 229h1v1h-1zM511 229h14v1h-14zM564 229h1v1h-1zM724 229h1v1h-1zM463 230h1v1h-1zM483 230h1v1h-1zM508 230h3v1h-3zM565 230h1v1h-1zM724 230h1v1h-1zM462 231h1v1h-1zM484 231h1v1h-1zM506 231h2v1h-2zM566 231h1v1h-1zM724 231h1v1h-1zM462 232h1v1h-1zM485 232h1v1h-1zM505 232h1v1h-1zM566 232h1v1h-1zM724 232h1v1h-1zM461 233h1v1h-1zM486 233h1v1h-1zM503 233h2v1h-2zM567 233h1v1h-1zM724 233h1v1h-1zM460 234h1v1h-1zM487 234h1v1h-1zM502 234h1v1h-1zM568 234h1v1h-1zM724 234h1v1h-1zM459 235h1v1h-1zM488 235h2v1h-2zM501 235h1v1h-1zM569 235h1v1h-1zM723 235h1v1h-1zM459 236h1v1h-1zM490 236h2v1h-2zM496 236h5v1h-5zM569 236h1v1h-1zM723 236h1v1h-1zM458 237h1v1h-1zM492 237h4v1h-4zM570 237h1v1h-1zM723 237h1v1h-1zM457 238h1v1h-1zM570 238h1v1h-1zM722 238h1v1h-1zM457 239h1v1h-1zM571 239h1v1h-1zM722 239h1v1h-1zM457 240h1v1h-1zM571 240h1v1h-1zM722 240h1v1h-1zM457 241h1v1h-1zM572 241h1v1h-1zM722 241h1v1h-1zM456 242h1v1h-1zM572 242h1v1h-1zM721 242h1v1h-1zM456 243h1v1h-1zM573 243h1v1h-1zM721 243h1v1h-1zM456 244h1v1h-1zM573 244h1v1h-1zM721 244h1v1h-1zM456 245h1v1h-1zM573 245h1v1h-1zM720 245h1v1h-1zM456 246h1v1h-1zM574 246h1v1h-1zM720 246h1v1h-1zM456 247h1v1h-1zM574 247h1v1h-1zM720 247h1v1h-1zM456 248h1v1h-1zM574 248h1v1h-1zM719 248h1v1h-1zM455 249h1v1h-1zM575 249h1v1h-1zM719 249h1v1h-1zM455 250h1v1h-1zM575 250h1v1h-1zM718 250h1v1h-1zM455 251h1v1h-1zM576 251h1v1h-1zM718 251h1v1h-1zM455 252h1v1h-1zM576 252h1v1h-1zM717 252h1v1h-1zM455 253h1v1h-1zM576 253h1v1h-1zM717 253h1v1h-1zM455 254h1v1h-1zM577 254h1v1h-1zM716 254h1v1h-1zM454 255h1v1h-1zM577 255h1v1h-1zM716 255h1v1h-1zM454 256h1v1h-1zM577 256h1v1h-1zM638 256h2v1h-2zM715 256h1v1h-1zM454 257h1v1h-1zM578 257h1v1h-1zM636 257h2v1h-2zM640 257h2v1h-2zM713 257h2v1h-2zM4 258h1v1h-1zM454 258h1v1h-1zM578 258h1v1h-1zM629 258h7v1h-7zM642 258h1v1h-1zM712 258h1v1h-1zM5 259h1v1h-1zM454 259h1v1h-1zM579 259h1v1h-1zM628 259h1v1h-1zM643 259h2v1h-2zM711 259h1v1h-1zM5 260h1v1h-1zM454 260h1v1h-1zM579 260h1v1h-1zM627 260h1v1h-1zM645 260h2v1h-2zM709 260h2v1h-2zM6 261h1v1h-1zM454 261h1v1h-1zM580 261h1v1h-1zM626 261h1v1h-1zM647 261h2v1h-2zM707 261h2v1h-2zM7 262h1v1h-1zM453 262h1v1h-1zM581 262h1v1h-1zM625 262h1v1h-1zM649 262h3v1h-3zM679 262h7v1h-7zM704 262h3v1h-3zM7 263h1v1h-1zM453 263h1v1h-1zM581 263h1v1h-1zM624 263h1v1h-1zM652 263h2v1h-2zM670 263h9v1h-9zM686 263h4v1h-4zM702 263h2v1h-2zM8 264h1v1h-1zM453 264h1v1h-1zM582 264h1v1h-1zM623 264h1v1h-1zM654 264h16v1h-16zM690 264h12v1h-12zM9 265h1v1h-1zM453 265h1v1h-1zM583 265h1v1h-1zM622 265h1v1h-1zM9 266h1v1h-1zM453 266h1v1h-1zM583 266h1v1h-1zM599 266h4v1h-4zM621 266h1v1h-1zM10 267h1v1h-1zM453 267h1v1h-1zM584 267h1v1h-1zM596 267h3v1h-3zM603 267h4v1h-4zM613 267h8v1h-8zM11 268h1v1h-1zM452 268h1v1h-1zM585 268h1v1h-1zM593 268h3v1h-3zM607 268h2v1h-2zM611 268h2v1h-2zM11 269h1v1h-1zM452 269h1v1h-1zM586 269h2v1h-2zM590 269h3v1h-3zM609 269h2v1h-2zM12 270h13v1h-13zM452 270h1v1h-1zM588 270h2v1h-2zM25 271h2v1h-2zM452 271h1v1h-1zM27 272h2v1h-2zM452 272h1v1h-1zM29 273h1v1h-1zM452 273h1v1h-1zM30 274h2v1h-2zM451 274h1v1h-1zM32 275h1v1h-1zM451 275h1v1h-1zM33 276h1v1h-1zM451 276h1v1h-1zM34 277h2v1h-2zM451 277h1v1h-1zM36 278h1v1h-1zM451 278h1v1h-1zM37 279h1v1h-1zM451 279h1v1h-1zM37 280h1v1h-1zM450 280h1v1h-1zM38 281h1v1h-1zM450 281h1v1h-1zM39 282h1v1h-1zM450 282h1v1h-1zM39 283h1v1h-1zM450 283h1v1h-1zM40 284h1v1h-1zM450 284h1v1h-1zM41 285h1v1h-1zM449 285h1v1h-1zM41 286h1v1h-1zM449 286h1v1h-1zM42 287h1v1h-1zM449 287h1v1h-1zM42 288h1v1h-1zM449 288h1v1h-1zM43 289h1v1h-1zM448 289h1v1h-1zM43 290h1v1h-1zM448 290h1v1h-1zM43 291h1v1h-1zM448 291h1v1h-1zM44 292h1v1h-1zM448 292h1v1h-1zM44 293h1v1h-1zM447 293h1v1h-1zM44 294h1v1h-1zM447 294h1v1h-1zM44 295h1v1h-1zM447 295h1v1h-1zM45 296h1v1h-1zM447 296h1v1h-1zM45 297h1v1h-1zM447 297h1v1h-1zM45 298h1v1h-1zM446 298h1v1h-1zM46 299h1v1h-1zM446 299h1v1h-1zM46 300h1v1h-1zM446 300h1v1h-1zM46 301h1v1h-1zM446 301h1v1h-1zM46 302h1v1h-1zM446 302h1v1h-1zM47 303h1v1h-1zM446 303h1v1h-1zM47 304h1v1h-1zM445 304h1v1h-1zM47 305h1v1h-1zM445 305h1v1h-1zM48 306h1v1h-1zM445 306h1v1h-1zM48 307h1v1h-1zM445 307h1v1h-1zM48 308h1v1h-1zM445 308h1v1h-1zM49 309h1v1h-1zM445 309h1v1h-1zM49 310h1v1h-1zM444 310h1v1h-1zM49 311h1v1h-1zM444 311h1v1h-1zM49 312h1v1h-1zM444 312h1v1h-1zM50 313h1v1h-1zM444 313h1v1h-1zM50 314h1v1h-1zM444 314h1v1h-1zM50 315h1v1h-1zM444 315h1v1h-1zM51 316h1v1h-1zM443 316h1v1h-1zM51 317h1v1h-1zM443 317h1v1h-1zM51 318h1v1h-1zM88 318h5v1h-5zM443 318h1v1h-1zM52 319h1v1h-1zM84 319h4v1h-4zM93 319h1v1h-1zM443 319h1v1h-1zM52 320h1v1h-1zM84 320h1v1h-1zM94 320h1v1h-1zM443 320h1v1h-1zM52 321h1v1h-1zM83 321h1v1h-1zM94 321h1v1h-1zM443 321h1v1h-1zM52 322h1v1h-1zM83 322h1v1h-1zM95 322h1v1h-1zM443 322h1v1h-1zM53 323h1v1h-1zM82 323h1v1h-1zM96 323h1v1h-1zM443 323h1v1h-1zM53 324h1v1h-1zM82 324h1v1h-1zM97 324h1v1h-1zM442 324h1v1h-1zM53 325h1v1h-1zM81 325h1v1h-1zM97 325h1v1h-1zM442 325h1v1h-1zM54 326h1v1h-1zM80 326h1v1h-1zM98 326h1v1h-1zM442 326h1v1h-1zM54 327h1v1h-1zM79 327h1v1h-1zM99 327h1v1h-1zM442 327h1v1h-1zM54 328h1v1h-1zM79 328h1v1h-1zM99 328h1v1h-1zM442 328h1v1h-1zM55 329h1v1h-1zM78 329h1v1h-1zM100 329h1v1h-1zM442 329h1v1h-1zM55 330h1v1h-1zM77 330h1v1h-1zM100 330h1v1h-1zM154 330h3v1h-3zM163 330h4v1h-4zM442 330h1v1h-1zM55 331h1v1h-1zM76 331h1v1h-1zM101 331h1v1h-1zM153 331h1v1h-1zM157 331h6v1h-6zM167 331h2v1h-2zM441 331h1v1h-1zM55 332h1v1h-1zM76 332h1v1h-1zM101 332h1v1h-1zM151 332h2v1h-2zM169 332h1v1h-1zM441 332h1v1h-1zM56 333h1v1h-1zM75 333h1v1h-1zM102 333h1v1h-1zM150 333h1v1h-1zM170 333h2v1h-2zM441 333h1v1h-1zM56 334h1v1h-1zM74 334h1v1h-1zM102 334h1v1h-1zM149 334h1v1h-1zM172 334h2v1h-2zM441 334h1v1h-1zM57 335h1v1h-1zM73 335h1v1h-1zM103 335h1v1h-1zM147 335h2v1h-2zM174 335h4v1h-4zM441 335h1v1h-1zM57 336h1v1h-1zM73 336h1v1h-1zM104 336h1v1h-1zM145 336h2v1h-2zM178 336h4v1h-4zM441 336h1v1h-1zM58 337h1v1h-1zM72 337h1v1h-1zM104 337h1v1h-1zM144 337h1v1h-1zM181 337h1v1h-1zM441 337h1v1h-1zM59 338h1v1h-1zM72 338h1v1h-1zM105 338h1v1h-1zM142 338h2v1h-2zM182 338h1v1h-1zM440 338h1v1h-1zM59 339h1v1h-1zM71 339h1v1h-1zM105 339h1v1h-1zM141 339h1v1h-1zM182 339h1v1h-1zM440 339h1v1h-1zM60 340h1v1h-1zM70 340h1v1h-1zM106 340h1v1h-1zM140 340h1v1h-1zM183 340h1v1h-1zM440 340h1v1h-1zM60 341h1v1h-1zM70 341h1v1h-1zM106 341h1v1h-1zM140 341h1v1h-1zM183 341h1v1h-1zM440 341h1v1h-1zM61 342h9v1h-9zM107 342h1v1h-1zM139 342h1v1h-1zM184 342h1v1h-1zM440 342h1v1h-1zM107 343h1v1h-1zM138 343h1v1h-1zM184 343h1v1h-1zM440 343h1v1h-1zM108 344h1v1h-1zM137 344h1v1h-1zM185 344h1v1h-1zM439 344h1v1h-1zM108 345h1v1h-1zM137 345h1v1h-1zM185 345h1v1h-1zM439 345h1v1h-1zM109 346h1v1h-1zM136 346h1v1h-1zM185 346h1v1h-1zM439 346h1v1h-1zM109 347h1v1h-1zM136 347h1v1h-1zM185 347h1v1h-1zM439 347h1v1h-1zM110 348h1v1h-1zM135 348h1v1h-1zM186 348h1v1h-1zM439 348h1v1h-1zM110 349h1v1h-1zM135 349h1v1h-1zM186 349h1v1h-1zM439 349h1v1h-1zM110 350h1v1h-1zM134 350h1v1h-1zM186 350h1v1h-1zM439 350h1v1h-1zM111 351h1v1h-1zM134 351h1v1h-1zM187 351h1v1h-1zM438 351h1v1h-1zM111 352h1v1h-1zM133 352h1v1h-1zM187 352h1v1h-1zM438 352h1v1h-1zM111 353h1v1h-1zM133 353h1v1h-1zM188 353h1v1h-1zM438 353h1v1h-1zM112 354h1v1h-1zM132 354h1v1h-1zM188 354h1v1h-1zM438 354h1v1h-1zM112 355h1v1h-1zM132 355h1v1h-1zM189 355h1v1h-1zM438 355h1v1h-1zM113 356h1v1h-1zM131 356h1v1h-1zM189 356h1v1h-1zM438 356h1v1h-1zM113 357h1v1h-1zM130 357h1v1h-1zM190 357h1v1h-1zM438 357h1v1h-1zM114 358h1v1h-1zM129 358h1v1h-1zM190 358h1v1h-1zM438 358h1v1h-1zM114 359h1v1h-1zM128 359h1v1h-1zM191 359h1v1h-1zM437 359h1v1h-1zM115 360h1v1h-1zM127 360h1v1h-1zM191 360h1v1h-1zM437 360h1v1h-1zM115 361h1v1h-1zM126 361h1v1h-1zM192 361h1v1h-1zM414 361h5v1h-5zM437 361h1v1h-1zM116 362h1v1h-1zM125 362h1v1h-1zM192 362h1v1h-1zM412 362h2v1h-2zM419 362h19v1h-19zM116 363h9v1h-9zM193 363h1v1h-1zM410 363h2v1h-2zM193 364h1v1h-1zM408 364h2v1h-2zM193 365h1v1h-1zM407 365h1v1h-1zM194 366h1v1h-1zM406 366h1v1h-1zM194 367h1v1h-1zM405 367h1v1h-1zM195 368h1v1h-1zM403 368h2v1h-2zM195 369h1v1h-1zM307 369h15v1h-15zM402 369h1v1h-1zM195 370h1v1h-1zM248 370h6v1h-6zM306 370h1v1h-1zM322 370h2v1h-2zM401 370h1v1h-1zM196 371h1v1h-1zM247 371h1v1h-1zM254 371h3v1h-3zM305 371h1v1h-1zM324 371h1v1h-1zM400 371h1v1h-1zM196 372h1v1h-1zM245 372h2v1h-2zM257 372h2v1h-2zM304 372h1v1h-1zM325 372h2v1h-2zM399 372h1v1h-1zM197 373h1v1h-1zM244 373h1v1h-1zM259 373h2v1h-2zM303 373h1v1h-1zM327 373h2v1h-2zM398 373h1v1h-1zM197 374h1v1h-1zM243 374h1v1h-1zM261 374h1v1h-1zM302 374h1v1h-1zM329 374h3v1h-3zM398 374h1v1h-1zM197 375h1v1h-1zM242 375h1v1h-1zM262 375h2v1h-2zM301 375h1v1h-1zM332 375h3v1h-3zM397 375h1v1h-1zM198 376h1v1h-1zM240 376h2v1h-2zM264 376h1v1h-1zM300 376h1v1h-1zM335 376h3v1h-3zM356 376h7v1h-7zM396 376h1v1h-1zM198 377h1v1h-1zM238 377h2v1h-2zM265 377h2v1h-2zM298 377h2v1h-2zM338 377h2v1h-2zM354 377h2v1h-2zM363 377h2v1h-2zM396 377h1v1h-1zM198 378h1v1h-1zM237 378h1v1h-1zM267 378h9v1h-9zM297 378h1v1h-1zM340 378h3v1h-3zM348 378h6v1h-6zM365 378h2v1h-2zM395 378h1v1h-1zM199 379h1v1h-1zM235 379h2v1h-2zM276 379h2v1h-2zM296 379h1v1h-1zM343 379h5v1h-5zM367 379h2v1h-2zM395 379h1v1h-1zM199 380h1v1h-1zM234 380h1v1h-1zM278 380h2v1h-2zM292 380h4v1h-4zM369 380h1v1h-1zM394 380h1v1h-1zM200 381h1v1h-1zM233 381h1v1h-1zM280 381h2v1h-2zM286 381h6v1h-6zM370 381h1v1h-1zM393 381h1v1h-1zM200 382h1v1h-1zM231 382h2v1h-2zM282 382h4v1h-4zM371 382h2v1h-2zM393 382h1v1h-1zM201 383h1v1h-1zM230 383h1v1h-1zM373 383h1v1h-1zM392 383h1v1h-1zM202 384h1v1h-1zM229 384h1v1h-1zM374 384h1v1h-1zM390 384h2v1h-2zM203 385h1v1h-1zM227 385h2v1h-2zM375 385h1v1h-1zM389 385h1v1h-1zM204 386h1v1h-1zM225 386h2v1h-2zM376 386h2v1h-2zM387 386h2v1h-2zM205 387h1v1h-1zM223 387h2v1h-2zM378 387h9v1h-9zM205 388h1v1h-1zM221 388h2v1h-2zM206 389h1v1h-1zM220 389h1v1h-1zM206 390h1v1h-1zM219 390h1v1h-1zM207 391h1v1h-1zM217 391h2v1h-2zM207 392h1v1h-1zM216 392h1v1h-1zM208 393h3v1h-3zM215 393h1v1h-1zM211 394h4v1h-4z" fill="#0000cd"/>
<path d="M481 429h16v1h-16zM479 430h2v1h-2zM497 430h4v1h-4zM477 431h2v1h-2zM501 431h4v1h-4zM476 432h1v1h-1zM505 432h4v1h-4zM825 432h10v1h-10zM475 433h1v1h-1zM509 433h2v1h-2zM762 433h19v1h-19zM822 433h3v1h-3zM835 433h4v1h-4zM473 434h2v1h-2zM511 434h3v1h-3zM760 434h2v1h-2zM781 434h4v1h-4zM820 434h2v1h-2zM839 434h5v1h-5zM472 435h1v1h-1zM514 435h4v1h-4zM758 435h2v1h-2zM785 435h2v1h-2zM809 435h11v1h-11zM844 435h2v1h-2zM471 436h1v1h-1zM518 436h3v1h-3zM757 436h1v1h-1zM787 436h3v1h-3zM806 436h3v1h-3zM846 436h2v1h-2zM469 437h2v1h-2zM521 437h4v1h-4zM756 437h1v1h-1zM790 437h16v1h-16zM848 437h2v1h-2zM468 438h1v1h-1zM525 438h3v1h-3zM755 438h1v1h-1zM850 438h2v1h-2zM467 439h1v1h-1zM528 439h4v1h-4zM754 439h1v1h-1zM852 439h2v1h-2zM466 440h1v1h-1zM532 440h4v1h-4zM753 440h1v1h-1zM854 440h2v1h-2zM465 441h1v1h-1zM536 441h4v1h-4zM752 441h1v1h-1zM856 441h2v1h-2zM463 442h2v1h-2zM540 442h3v1h-3zM751 442h1v1h-1zM858 442h2v1h-2zM462 443h1v1h-1zM543 443h4v1h-4zM750 443h1v1h-1zM860 443h2v1h-2zM461 444h1v1h-1zM547 444h3v1h-3zM748 444h2v1h-2zM862 444h1v1h-1zM460 445h1v1h-1zM550 445h2v1h-2zM747 445h1v1h-1zM863 445h1v1h-1zM459 446h1v1h-1zM552 446h3v1h-3zM746 446h1v1h-1zM864 446h2v1h-2zM458 447h1v1h-1zM555 447h3v1h-3zM745 447h1v1h-1zM866 447h1v1h-1zM457 448h1v1h-1zM558 448h4v1h-4zM744 448h1v1h-1zM867 448h1v1h-1zM455 449h2v1h-2zM562 449h4v1h-4zM743 449h1v1h-1zM868 449h1v1h-1zM454 450h1v1h-1zM566 450h4v1h-4zM742 450h1v1h-1zM869 450h2v1h-2zM453 451h1v1h-1zM570 451h2v1h-2zM740 451h2v1h-2zM871 451h1v1h-1zM452 452h1v1h-1zM572 452h3v1h-3zM739 452h1v1h-1zM872 452h1v1h-1zM450 453h2v1h-2zM575 453h3v1h-3zM738 453h1v1h-1zM873 453h2v1h-2zM449 454h1v1h-1zM578 454h2v1h-2zM737 454h1v1h-1zM875 454h1v1h-1zM448 455h1v1h-1zM580 455h2v1h-2zM736 455h1v1h-1zM876 455h2v1h-2zM446 456h2v1h-2zM582 456h2v1h-2zM734 456h2v1h-2zM878 456h2v1h-2zM445 457h1v1h-1zM584 457h2v1h-2zM733 457h1v1h-1zM880 457h1v1h-1zM441 458h4v1h-4zM586 458h2v1h-2zM732 458h1v1h-1zM881 458h2v1h-2zM436 459h5v1h-5zM588 459h2v1h-2zM730 459h2v1h-2zM883 459h2v1h-2zM920 459h5v1h-5zM431 460h5v1h-5zM590 460h3v1h-3zM729 460h1v1h-1zM885 460h4v1h-4zM915 460h5v1h-5zM425 461h6v1h-6zM593 461h2v1h-2zM727 461h2v1h-2zM889 461h2v1h-2zM913 461h2v1h-2zM418 462h7v1h-7zM595 462h3v1h-3zM724 462h3v1h-3zM891 462h2v1h-2zM911 462h2v1h-2zM412 463h6v1h-6zM598 463h4v1h-4zM721 463h3v1h-3zM893 463h2v1h-2zM903 463h8v1h-8zM407 464h5v1h-5zM602 464h3v1h-3zM719 464h2v1h-2zM895 464h8v1h-8zM319 465h56v1h-56zM403 465h4v1h-4zM605 465h1v1h-1zM698 465h21v1h-21zM4 466h4v1h-4zM308 466h11v1h-11zM375 466h28v1h-28zM606 466h2v1h-2zM650 466h48v1h-48zM8 467h8v1h-8zM306 467h2v1h-2zM608 467h8v1h-8zM634 467h16v1h-16zM16 468h8v1h-8zM177 468h15v1h-15zM299 468h7v1h-7zM616 468h18v1h-18zM24 469h8v1h-8zM173 469h4v1h-4zM192 469h4v1h-4zM283 469h16v1h-16zM32 470h7v1h-7zM169 470h4v1h-4zM196 470h4v1h-4zM270 470h13v1h-13zM39 471h5v1h-5zM165 471h4v1h-4zM200 471h2v1h-2zM268 471h2v1h-2zM44 472h4v1h-4zM161 472h4v1h-4zM202 472h2v1h-2zM257 472h11v1h-11zM48 473h3v1h-3zM157 473h4v1h-4zM204 473h3v1h-3zM253 473h4v1h-4zM51 474h2v1h-2zM154 474h3v1h-3zM207 474h2v1h-2zM249 474h4v1h-4zM53 475h3v1h-3zM152 475h2v1h-2zM209 475h3v1h-3zM245 475h4v1h-4zM56 476h3v1h-3zM149 476h3v1h-3zM212 476h4v1h-4zM242 476h3v1h-3zM59 477h3v1h-3zM147 477h2v1h-2zM216 477h4v1h-4zM240 477h2v1h-2zM62 478h2v1h-2zM145 478h2v1h-2zM220 478h20v1h-20zM64 479h2v1h-2zM140 479h5v1h-5zM66 480h3v1h-3zM101 480h24v1h-24zM134 480h6v1h-6zM69 481h2v1h-2zM94 481h7v1h-7zM125 481h9v1h-9zM71 482h3v1h-3zM90 482h4v1h-4zM74 483h4v1h-4zM87 483h3v1h-3zM78 484h9v1h-9z" fill="#ff0000"/>
<path d="M728 502h1v1h-1zM728 503h1v1h-1zM727 504h1v1h-1zM729 504h1v1h-1zM727 505h1v1h-1zM729 505h1v1h-1zM726 506h1v1h-1zM729 506h1v1h-1zM726 507h1v1h-1zM730 507h1v1h-1zM440 508h1v1h-1zM456 508h8v1h-8zM725 508h1v1h-1zM730 508h1v1h-1zM440 509h3v1h-3zM454 509h2v1h-2zM464 509h2v1h-2zM725 509h1v1h-1zM731 509h1v1h-1zM440 510h1v1h-1zM443 510h2v1h-2zM447 510h7v1h-7zM466 510h2v1h-2zM722 510h3v1h-3zM731 510h1v1h-1zM736 510h1v1h-1zM440 511h1v1h-1zM445 511h2v1h-2zM468 511h7v1h-7zM720 511h2v1h-2zM731 511h1v1h-1zM734 511h2v1h-2zM737 511h1v1h-1zM439 512h1v1h-1zM475 512h1v1h-1zM720 512h1v1h-1zM732 512h2v1h-2zM738 512h1v1h-1zM439 513h1v1h-1zM476 513h1v1h-1zM719 513h1v1h-1zM732 513h1v1h-1zM738 513h1v1h-1zM743 513h3v1h-3zM750 513h3v1h-3zM439 514h1v1h-1zM477 514h2v1h-2zM719 514h1v1h-1zM739 514h1v1h-1zM741 514h2v1h-2zM746 514h4v1h-4zM752 514h1v1h-1zM801 514h1v1h-1zM439 515h1v1h-1zM479 515h1v1h-1zM719 515h1v1h-1zM740 515h1v1h-1zM753 515h1v1h-1zM799 515h2v1h-2zM802 515h2v1h-2zM807 515h3v1h-3zM439 516h1v1h-1zM480 516h2v1h-2zM496 516h1v1h-1zM719 516h1v1h-1zM753 516h1v1h-1zM798 516h1v1h-1zM804 516h3v1h-3zM810 516h1v1h-1zM824 516h2v1h-2zM439 517h1v1h-1zM482 517h2v1h-2zM494 517h2v1h-2zM497 517h2v1h-2zM718 517h1v1h-1zM753 517h1v1h-1zM795 517h3v1h-3zM811 517h1v1h-1zM822 517h2v1h-2zM826 517h2v1h-2zM439 518h1v1h-1zM484 518h2v1h-2zM492 518h2v1h-2zM499 518h2v1h-2zM503 518h7v1h-7zM528 518h8v1h-8zM718 518h1v1h-1zM753 518h1v1h-1zM793 518h2v1h-2zM811 518h1v1h-1zM816 518h6v1h-6zM828 518h1v1h-1zM439 519h1v1h-1zM486 519h2v1h-2zM490 519h2v1h-2zM501 519h2v1h-2zM510 519h2v1h-2zM527 519h1v1h-1zM536 519h1v1h-1zM718 519h1v1h-1zM754 519h1v1h-1zM792 519h1v1h-1zM812 519h1v1h-1zM814 519h2v1h-2zM829 519h1v1h-1zM438 520h1v1h-1zM488 520h2v1h-2zM512 520h10v1h-10zM526 520h1v1h-1zM537 520h1v1h-1zM717 520h1v1h-1zM754 520h1v1h-1zM791 520h1v1h-1zM813 520h1v1h-1zM829 520h1v1h-1zM438 521h1v1h-1zM522 521h2v1h-2zM525 521h1v1h-1zM538 521h1v1h-1zM717 521h1v1h-1zM754 521h1v1h-1zM790 521h1v1h-1zM830 521h1v1h-1zM438 522h1v1h-1zM524 522h1v1h-1zM538 522h1v1h-1zM717 522h1v1h-1zM754 522h1v1h-1zM789 522h1v1h-1zM830 522h1v1h-1zM438 523h1v1h-1zM539 523h1v1h-1zM551 523h8v1h-8zM717 523h1v1h-1zM755 523h1v1h-1zM778 523h4v1h-4zM787 523h2v1h-2zM831 523h1v1h-1zM401 524h1v1h-1zM438 524h1v1h-1zM540 524h1v1h-1zM547 524h4v1h-4zM559 524h1v1h-1zM716 524h1v1h-1zM755 524h1v1h-1zM776 524h2v1h-2zM782 524h2v1h-2zM786 524h1v1h-1zM831 524h1v1h-1zM400 525h1v1h-1zM402 525h1v1h-1zM438 525h1v1h-1zM540 525h1v1h-1zM543 525h4v1h-4zM560 525h1v1h-1zM716 525h1v1h-1zM755 525h1v1h-1zM761 525h2v1h-2zM774 525h2v1h-2zM784 525h2v1h-2zM832 525h1v1h-1zM915 525h6v1h-6zM399 526h1v1h-1zM402 526h1v1h-1zM438 526h1v1h-1zM541 526h2v1h-2zM560 526h1v1h-1zM715 526h1v1h-1zM755 526h1v1h-1zM760 526h1v1h-1zM763 526h7v1h-7zM773 526h1v1h-1zM832 526h2v1h-2zM913 526h2v1h-2zM921 526h2v1h-2zM399 527h1v1h-1zM403 527h1v1h-1zM438 527h1v1h-1zM561 527h1v1h-1zM715 527h1v1h-1zM756 527h1v1h-1zM758 527h2v1h-2zM770 527h3v1h-3zM834 527h3v1h-3zM911 527h2v1h-2zM923 527h2v1h-2zM307 528h2v1h-2zM398 528h1v1h-1zM404 528h1v1h-1zM414 528h3v1h-3zM424 528h1v1h-1zM437 528h1v1h-1zM561 528h1v1h-1zM714 528h1v1h-1zM756 528h2v1h-2zM837 528h1v1h-1zM903 528h8v1h-8zM305 529h2v1h-2zM309 529h1v1h-1zM397 529h1v1h-1zM404 529h1v1h-1zM407 529h7v1h-7zM417 529h1v1h-1zM423 529h1v1h-1zM425 529h1v1h-1zM437 529h1v1h-1zM561 529h1v1h-1zM713 529h1v1h-1zM756 529h1v1h-1zM838 529h1v1h-1zM901 529h2v1h-2zM152 530h1v1h-1zM304 530h1v1h-1zM309 530h1v1h-1zM394 530h3v1h-3zM405 530h2v1h-2zM417 530h1v1h-1zM423 530h1v1h-1zM426 530h2v1h-2zM437 530h1v1h-1zM562 530h1v1h-1zM705 530h2v1h-2zM713 530h1v1h-1zM838 530h1v1h-1zM892 530h9v1h-9zM151 531h1v1h-1zM153 531h1v1h-1zM303 531h1v1h-1zM310 531h1v1h-1zM357 531h1v1h-1zM392 531h2v1h-2zM418 531h1v1h-1zM422 531h1v1h-1zM428 531h10v1h-10zM562 531h1v1h-1zM624 531h2v1h-2zM704 531h1v1h-1zM707 531h6v1h-6zM839 531h1v1h-1zM891 531h1v1h-1zM150 532h1v1h-1zM153 532h1v1h-1zM302 532h1v1h-1zM310 532h1v1h-1zM356 532h1v1h-1zM358 532h1v1h-1zM391 532h1v1h-1zM419 532h1v1h-1zM421 532h1v1h-1zM563 532h1v1h-1zM624 532h1v1h-1zM626 532h3v1h-3zM703 532h1v1h-1zM840 532h1v1h-1zM847 532h3v1h-3zM890 532h1v1h-1zM150 533h1v1h-1zM154 533h1v1h-1zM302 533h1v1h-1zM311 533h1v1h-1zM324 533h1v1h-1zM355 533h1v1h-1zM358 533h1v1h-1zM390 533h1v1h-1zM419 533h1v1h-1zM421 533h1v1h-1zM563 533h1v1h-1zM623 533h1v1h-1zM629 533h2v1h-2zM634 533h3v1h-3zM702 533h1v1h-1zM841 533h2v1h-2zM845 533h2v1h-2zM850 533h7v1h-7zM884 533h1v1h-1zM890 533h1v1h-1zM149 534h1v1h-1zM155 534h1v1h-1zM163 534h3v1h-3zM246 534h3v1h-3zM288 534h5v1h-5zM301 534h1v1h-1zM311 534h1v1h-1zM323 534h1v1h-1zM325 534h1v1h-1zM354 534h1v1h-1zM359 534h1v1h-1zM389 534h1v1h-1zM420 534h1v1h-1zM563 534h1v1h-1zM623 534h1v1h-1zM631 534h3v1h-3zM637 534h1v1h-1zM683 534h3v1h-3zM696 534h2v1h-2zM701 534h1v1h-1zM843 534h2v1h-2zM857 534h1v1h-1zM882 534h2v1h-2zM885 534h2v1h-2zM889 534h1v1h-1zM142 535h7v1h-7zM155 535h1v1h-1zM161 535h2v1h-2zM166 535h3v1h-3zM242 535h4v1h-4zM249 535h1v1h-1zM287 535h1v1h-1zM293 535h1v1h-1zM299 535h2v1h-2zM312 535h5v1h-5zM322 535h1v1h-1zM326 535h1v1h-1zM345 535h2v1h-2zM351 535h3v1h-3zM359 535h1v1h-1zM387 535h2v1h-2zM564 535h1v1h-1zM622 535h1v1h-1zM637 535h1v1h-1zM669 535h14v1h-14zM686 535h1v1h-1zM695 535h1v1h-1zM698 535h3v1h-3zM857 535h1v1h-1zM876 535h2v1h-2zM881 535h1v1h-1zM887 535h2v1h-2zM138 536h4v1h-4zM156 536h5v1h-5zM169 536h1v1h-1zM238 536h4v1h-4zM249 536h1v1h-1zM272 536h1v1h-1zM287 536h1v1h-1zM294 536h2v1h-2zM297 536h2v1h-2zM317 536h2v1h-2zM321 536h1v1h-1zM326 536h1v1h-1zM344 536h1v1h-1zM347 536h4v1h-4zM360 536h1v1h-1zM372 536h1v1h-1zM385 536h2v1h-2zM564 536h5v1h-5zM613 536h4v1h-4zM622 536h1v1h-1zM638 536h1v1h-1zM649 536h2v1h-2zM667 536h2v1h-2zM686 536h1v1h-1zM695 536h1v1h-1zM858 536h1v1h-1zM875 536h1v1h-1zM878 536h3v1h-3zM128 537h1v1h-1zM135 537h3v1h-3zM170 537h2v1h-2zM174 537h3v1h-3zM236 537h2v1h-2zM250 537h1v1h-1zM260 537h1v1h-1zM270 537h2v1h-2zM273 537h1v1h-1zM286 537h1v1h-1zM296 537h1v1h-1zM319 537h2v1h-2zM327 537h1v1h-1zM330 537h4v1h-4zM342 537h2v1h-2zM360 537h1v1h-1zM371 537h2v1h-2zM380 537h5v1h-5zM568 537h1v1h-1zM613 537h1v1h-1zM617 537h1v1h-1zM621 537h1v1h-1zM638 537h1v1h-1zM648 537h1v1h-1zM651 537h3v1h-3zM660 537h3v1h-3zM666 537h1v1h-1zM687 537h1v1h-1zM694 537h1v1h-1zM858 537h1v1h-1zM874 537h1v1h-1zM19 538h2v1h-2zM127 538h1v1h-1zM129 538h2v1h-2zM133 538h2v1h-2zM172 538h2v1h-2zM177 538h1v1h-1zM234 538h2v1h-2zM251 538h1v1h-1zM259 538h1v1h-1zM261 538h2v1h-2zM269 538h1v1h-1zM274 538h2v1h-2zM285 538h1v1h-1zM328 538h2v1h-2zM334 538h4v1h-4zM341 538h1v1h-1zM361 538h1v1h-1zM371 538h1v1h-1zM373 538h1v1h-1zM380 538h1v1h-1zM569 538h1v1h-1zM612 538h1v1h-1zM618 538h2v1h-2zM621 538h1v1h-1zM639 538h1v1h-1zM646 538h2v1h-2zM654 538h2v1h-2zM658 538h2v1h-2zM663 538h3v1h-3zM687 538h1v1h-1zM694 538h1v1h-1zM859 538h1v1h-1zM873 538h1v1h-1zM17 539h2v1h-2zM21 539h1v1h-1zM84 539h1v1h-1zM126 539h1v1h-1zM131 539h2v1h-2zM178 539h2v1h-2zM233 539h1v1h-1zM251 539h1v1h-1zM258 539h1v1h-1zM263 539h6v1h-6zM276 539h1v1h-1zM285 539h1v1h-1zM338 539h3v1h-3zM361 539h6v1h-6zM370 539h1v1h-1zM373 539h1v1h-1zM379 539h1v1h-1zM569 539h1v1h-1zM612 539h1v1h-1zM620 539h1v1h-1zM639 539h1v1h-1zM645 539h1v1h-1zM656 539h2v1h-2zM688 539h1v1h-1zM693 539h1v1h-1zM859 539h1v1h-1zM872 539h1v1h-1zM16 540h1v1h-1zM22 540h1v1h-1zM82 540h2v1h-2zM85 540h1v1h-1zM126 540h1v1h-1zM180 540h1v1h-1zM219 540h2v1h-2zM231 540h2v1h-2zM252 540h1v1h-1zM258 540h1v1h-1zM277 540h1v1h-1zM284 540h1v1h-1zM367 540h3v1h-3zM374 540h1v1h-1zM379 540h1v1h-1zM569 540h1v1h-1zM587 540h9v1h-9zM611 540h1v1h-1zM640 540h5v1h-5zM689 540h2v1h-2zM693 540h1v1h-1zM860 540h1v1h-1zM871 540h1v1h-1zM4 541h1v1h-1zM15 541h1v1h-1zM23 541h1v1h-1zM81 541h1v1h-1zM86 541h1v1h-1zM125 541h1v1h-1zM181 541h1v1h-1zM217 541h2v1h-2zM221 541h2v1h-2zM229 541h2v1h-2zM253 541h2v1h-2zM257 541h1v1h-1zM278 541h1v1h-1zM282 541h2v1h-2zM374 541h1v1h-1zM378 541h1v1h-1zM570 541h1v1h-1zM585 541h2v1h-2zM596 541h4v1h-4zM611 541h1v1h-1zM691 541h2v1h-2zM860 541h1v1h-1zM870 541h1v1h-1zM5 542h2v1h-2zM14 542h1v1h-1zM24 542h2v1h-2zM76 542h5v1h-5zM87 542h1v1h-1zM90 542h3v1h-3zM123 542h2v1h-2zM181 542h1v1h-1zM216 542h1v1h-1zM223 542h6v1h-6zM255 542h2v1h-2zM279 542h1v1h-1zM281 542h1v1h-1zM375 542h1v1h-1zM378 542h1v1h-1zM570 542h1v1h-1zM584 542h1v1h-1zM600 542h3v1h-3zM610 542h1v1h-1zM861 542h1v1h-1zM869 542h1v1h-1zM7 543h3v1h-3zM13 543h1v1h-1zM26 543h3v1h-3zM75 543h1v1h-1zM88 543h2v1h-2zM93 543h1v1h-1zM121 543h2v1h-2zM182 543h1v1h-1zM215 543h1v1h-1zM280 543h1v1h-1zM375 543h1v1h-1zM377 543h1v1h-1zM570 543h1v1h-1zM582 543h2v1h-2zM603 543h4v1h-4zM610 543h1v1h-1zM862 543h1v1h-1zM867 543h2v1h-2zM10 544h3v1h-3zM29 544h1v1h-1zM36 544h1v1h-1zM74 544h1v1h-1zM93 544h1v1h-1zM120 544h1v1h-1zM183 544h1v1h-1zM214 544h1v1h-1zM376 544h2v1h-2zM570 544h1v1h-1zM576 544h2v1h-2zM581 544h1v1h-1zM607 544h3v1h-3zM863 544h1v1h-1zM865 544h2v1h-2zM30 545h1v1h-1zM34 545h2v1h-2zM37 545h1v1h-1zM73 545h1v1h-1zM94 545h1v1h-1zM120 545h1v1h-1zM183 545h1v1h-1zM213 545h1v1h-1zM376 545h1v1h-1zM571 545h1v1h-1zM575 545h1v1h-1zM578 545h3v1h-3zM864 545h1v1h-1zM31 546h1v1h-1zM33 546h1v1h-1zM37 546h1v1h-1zM69 546h4v1h-4zM94 546h1v1h-1zM119 546h1v1h-1zM184 546h1v1h-1zM188 546h2v1h-2zM212 546h1v1h-1zM571 546h1v1h-1zM574 546h1v1h-1zM32 547h1v1h-1zM38 547h1v1h-1zM69 547h1v1h-1zM95 547h1v1h-1zM119 547h1v1h-1zM184 547h1v1h-1zM186 547h2v1h-2zM190 547h2v1h-2zM210 547h2v1h-2zM571 547h1v1h-1zM574 547h1v1h-1zM38 548h1v1h-1zM68 548h1v1h-1zM95 548h1v1h-1zM119 548h1v1h-1zM185 548h1v1h-1zM192 548h2v1h-2zM204 548h2v1h-2zM209 548h1v1h-1zM572 548h2v1h-2zM39 549h1v1h-1zM68 549h1v1h-1zM96 549h1v1h-1zM99 549h7v1h-7zM118 549h1v1h-1zM194 549h2v1h-2zM203 549h1v1h-1zM206 549h3v1h-3zM572 549h1v1h-1zM39 550h1v1h-1zM67 550h1v1h-1zM96 550h3v1h-3zM106 550h2v1h-2zM118 550h1v1h-1zM196 550h2v1h-2zM203 550h1v1h-1zM40 551h1v1h-1zM67 551h1v1h-1zM108 551h1v1h-1zM118 551h1v1h-1zM198 551h1v1h-1zM202 551h1v1h-1zM41 552h1v1h-1zM66 552h1v1h-1zM109 552h1v1h-1zM117 552h1v1h-1zM199 552h2v1h-2zM202 552h1v1h-1zM42 553h1v1h-1zM66 553h1v1h-1zM110 553h2v1h-2zM117 553h1v1h-1zM201 553h1v1h-1zM43 554h1v1h-1zM65 554h1v1h-1zM112 554h1v1h-1zM117 554h1v1h-1zM44 555h1v1h-1zM58 555h4v1h-4zM65 555h1v1h-1zM113 555h2v1h-2zM116 555h1v1h-1zM45 556h1v1h-1zM55 556h3v1h-3zM62 556h3v1h-3zM115 556h2v1h-2zM46 557h2v1h-2zM53 557h2v1h-2zM48 558h5v1h-5z" fill="#1e90ff"/>
</g>
<g shape-rendering="crispEdges">
<rect x="4" y="258" width="1" height="6" fill="#32cd32"/>
<rect x="4" y="258" width="2" height="6" fill="#32cd32"/>
<rect x="8" y="259" width="1" height="13" fill="#32cd32"/>
<rect x="7" y="263" width="3" height="9" fill="#32cd32"/>
<rect x="12" y="268" width="1" height="7" fill="#32cd32"/>
<rect x="11" y="270" width="3" height="3" fill="#32cd32"/>
<rect x="16" y="264" width="1" height="15" fill="#ff0000"/>
<rect x="15" y="265" width="3" height="10" fill="#ff0000"/>
<rect x="16" y="266" width="1" height="8" fill="#ff4500"/>
<rect x="20" y="253" width="1" height="16" fill="#ff0000"/>
<rect x="19" y="262" width="3" height="4" fill="#ff0000"/>
<rect x="20" y="263" width="1" height="2" fill="#ff4500"/>
<rect x="24" y="260" width="1" height="12" fill="#32cd32"/>
<rect x="23" y="262" width="3" height="10" fill="#32cd32"/>
<rect x="28" y="269" width="1" height="7" fill="#32cd32"/>
<rect x="27" y="270" width="3" height="6" fill="#32cd32"/>
<rect x="32" y="274" width="1" height="15" fill="#32cd32"/>
<rect x="31" y="276" width="3" height="11" fill="#32cd32"/>
<rect x="36" y="272" width="1" height="18" fill="#ff0000"/>
<rect x="35" y="281" width="3" height="6" fill="#ff0000"/>
<rect x="36" y="282" width="1" height="4" fill="#ff4500"/>
<rect x="40" y="280" width="1" height="32" fill="#32cd32"/>
<rect x="39" y="281" width="3" height="25" fill="#32cd32"/>
<rect x="44" y="302" width="1" height="32" fill="#32cd32"/>
<rect x="43" y="303" width="3" height="26" fill="#32cd32"/>
<rect x="48" y="323" width="1" height="41" fill="#32cd32"/>
<rect x="47" y="328" width="3" height="21" fill="#32cd32"/>
<rect x="52" y="344" width="1" height="6" fill="#ff0000"/>
<rect x="51" y="346" width="3" height="3" fill="#ff0000"/>
<rect x="52" y="347" width="1" height="1" fill="#ff4500"/>
<rect x="56" y="336" width="1" height="27" fill="#ff0000"/>
<rect x="55" y="344" width="3" height="4" fill="#ff0000"/>
<rect x="56" y="345" width="1" height="2" fill="#ff4500"/>
<rect x="60" y="336" width="1" height="24" fill="#ff0000"/>
<rect x="59" y="341" width="3" height="4" fill="#ff0000"/>
<rect x="60" y="342" width="1" height="2" fill="#ff4500"/>
<rect x="64" y="328" width="1" height="20" fill="#32cd32"/>
<rect x="63" y="341" width="3" height="5" fill="#32cd32"/>
<rect x="68" y="324" width="1" height="29" fill="#ff0000"/>
<rect x="67" y="325" width="3" height="20" fill="#ff0000"/>
<rect x="68" y="326" width="1" height="18" fill="#ff4500"/>
<rect x="72" y="325" width="1" height="19" fill="#ff0000"/>
<rect x="71" y="325" width="3" height="1" fill="#ff0000"/>
<rect x="76" y="315" width="1" height="11" fill="#ff0000"/>
<rect x="75" y="317" width="3" height="9" fill="#ff0000"/>
<rect x="76" y="318" width="1" height="7" fill="#ff4500"/>
<rect x="80" y="313" width="1" height="13" fill="#32cd32"/>
<rect x="79" y="316" width="3" height="3" fill="#32cd32"/>
<rect x="84" y="306" width="1" height="16" fill="#ff0000"/>
<rect x="83" y="311" width="3" height="9" fill="#ff0000"/>
<rect x="84" y="312" width="1" height="7" fill="#ff4500"/>
<rect x="88" y="307" width="1" height="23" fill="#32cd32"/>
<rect x="87" y="311" width="3" height="12" fill="#32cd32"/>
<rect x="92" y="313" width="1" height="21" fill="#ff0000"/>
<rect x="91" y="320" width="3" height="3" fill="#ff0000"/>
<rect x="92" y="321" width="1" height="1" fill="#ff4500"/>
<rect x="96" y="318" width="1" height="35" fill="#32cd32"/>
<rect x="95" y="321" width="3" height="30" fill="#32cd32"/>
<rect x="100" y="349" width="1" height="5" fill="#32cd32"/>
<rect x="99" y="350" width="3" height="3" fill="#32cd32"/>
<rect x="104" y="346" width="1" height="20" fill="#ff0000"/>
<rect x="103" y="350" width="3" height="2" fill="#ff0000"/>
<rect x="108" y="344" width="1" height="13" fill="#32cd32"/>
<rect x="107" y="349" width="3" height="8" fill="#32cd32"/>
<rect x="112" y="354" width="1" height="18" fill="#32cd32"/>
<rect x="111" y="356" width="3" height="16" fill="#32cd32"/>
<rect x="116" y="367" width="1" height="22" fill="#32cd32"/>
<rect x="115" y="371" width="3" height="13" fill="#32cd32"/>
<rect x="120" y="352" width="1" height="35" fill="#ff0000"/>
<rect x="119" y="353" width="3" height="32" fill="#ff0000"/>
<rect x="120" y="354" width="1" height="30" fill="#ff4500"/>
<rect x="124" y="349" width="1" height="7" fill="#ff0000"/>
<rect x="123" y="350" width="3" height="4" fill="#ff0000"/>
<rect x="124" y="351" width="1" height="2" fill="#ff4500"/>
<rect x="128" y="329" width="1" height="26" fill="#ff0000"/>
<rect x="127" y="336" width="3" height="15" fill="#ff0000"/>
<rect x="128" y="337" width="1" height="13" fill="#ff4500"/>
<rect x="132" y="331" width="1" height="22" fill="#32cd32"/>
<rect x="131" y="335" width="3" height="10" fill="#32cd32"/>
<rect x="136" y="336" width="1" height="14" fill="#ff0000"/>
<rect x="135" y="338" width="3" height="7" fill="#ff0000"/>
<rect x="136" y="339" width="1" height="5" fill="#ff4500"/>
<rect x="140" y="330" width="1" height="12" fill="#ff0000"/>
<rect x="139" y="335" width="3" height="4" fill="#ff0000"/>
<rect x="140" y="336" width="1" height="2" fill="#ff4500"/>
<rect x="144" y="323" width="1" height="15" fill="#ff0000"/>
<rect x="143" y="332" width="3" height="4" fill="#ff0000"/>
<rect x="144" y="333" width="1" height="2" fill="#ff4500"/>
<rect x="148" y="329" width="1" height="4" fill="#ff0000"/>
<rect x="147" y="331" width="3" height="2" fill="#ff0000"/>
<rect x="152" y="318" width="1" height="27" fill="#ff0000"/>
<rect x="151" y="319" width="3" height="13" fill="#ff0000"/>
<rect x="152" y="320" width="1" height="11" fill="#ff4500"/>
<rect x="156" y="313" width="1" height="23" fill="#32cd32"/>
<rect x="155" y="319" width="3" height="17" fill="#32cd32"/>
<rect x="160" y="333" width="1" height="16" fill="#ff0000"/>
<rect x="159" y="336" width="3" height="1" fill="#ff0000"/>
<rect x="164" y="327" width="1" height="19" fill="#ff0000"/>
<rect x="163" y="330" width="3" height="7" fill="#ff0000"/>
<rect x="164" y="331" width="1" height="5" fill="#ff4500"/>
<rect x="168" y="324" width="1" height="12" fill="#32cd32"/>
<rect x="167" y="330" width="3" height="4" fill="#32cd32"/>
<rect x="172" y="332" width="1" height="9" fill="#32cd32"/>
<rect x="171" y="333" width="3" height="7" fill="#32cd32"/>
<rect x="176" y="336" width="1" height="12" fill="#ff0000"/>
<rect x="175" y="337" width="3" height="3" fill="#ff0000"/>
<rect x="176" y="338" width="1" height="1" fill="#ff4500"/>
<rect x="180" y="330" width="1" height="17" fill="#32cd32"/>
<rect x="179" y="336" width="3" height="11" fill="#32cd32"/>
<rect x="184" y="343" width="1" height="37" fill="#32cd32"/>
<rect x="183" y="345" width="3" height="35" fill="#32cd32"/>
<rect x="188" y="371" width="1" height="28" fill="#ff0000"/>
<rect x="187" y="373" width="3" height="7" fill="#ff0000"/>
<rect x="188" y="374" width="1" height="5" fill="#ff4500"/>
<rect x="192" y="366" width="1" height="17" fill="#32cd32"/>
<rect x="191" y="373" width="3" height="8" fill="#32cd32"/>
<rect x="196" y="379" width="1" height="11" fill="#32cd32"/>
<rect x="195" y="380" width="3" height="10" fill="#32cd32"/>
<rect x="200" y="391" width="1" height="18" fill="#32cd32"/>
<rect x="199" y="396" width="3" height="8" fill="#32cd32"/>
<rect x="204" y="386" width="1" height="19" fill="#ff0000"/>
<rect x="203" y="394" width="3" height="11" fill="#ff0000"/>
<rect x="204" y="395" width="1" height="9" fill="#ff4500"/>
<rect x="208" y="393" width="1" height="14" fill="#32cd32"/>
<rect x="207" y="393" width="3" height="7" fill="#32cd32"/>
<rect x="212" y="391" width="1" height="17" fill="#ff0000"/>
<rect x="211" y="393" width="3" height="7" fill="#ff0000"/>
<rect x="212" y="394" width="1" height="5" fill="#ff4500"/>
<rect x="216" y="380" width="1" height="16" fill="#ff0000"/>
<rect x="215" y="383" width="3" height="11" fill="#ff0000"/>
<rect x="216" y="384" width="1" height="9" fill="#ff4500"/>
<rect x="220" y="377" width="1" height="7" fill="#ff0000"/>
<rect x="219" y="378" width="3" height="6" fill="#ff0000"/>
<rect x="220" y="379" width="1" height="4" fill="#ff4500"/>
<rect x="224" y="381" width="1" height="19" fill="#ff0000"/>
<rect x="223" y="382" width="3" height="9" fill="#ff0000"/>
<rect x="224" y="383" width="1" height="7" fill="#ff4500"/>
<rect x="228" y="381" width="1" height="10" fill="#32cd32"/>
<rect x="227" y="383" width="3" height="3" fill="#32cd32"/>
<rect x="232" y="370" width="1" height="19" fill="#ff0000"/>
<rect x="231" y="378" width="3" height="7" fill="#ff0000"/>
<rect x="232" y="379" width="1" height="5" fill="#ff4500"/>
<rect x="236" y="370" width="1" height="12" fill="#ff0000"/>
<rect x="235" y="372" width="3" height="7" fill="#ff0000"/>
<rect x="236" y="373" width="1" height="5" fill="#ff4500"/>
<rect x="240" y="363" width="1" height="9" fill="#ff0000"/>
<rect x="239" y="369" width="3" height="3" fill="#ff0000"/>
<rect x="240" y="370" width="1" height="1" fill="#ff4500"/>
<rect x="244" y="367" width="1" height="5" fill="#ff0000"/>
<rect x="243" y="367" width="3" height="3" fill="#ff0000"/>
<rect x="244" y="368" width="1" height="1" fill="#ff4500"/>
<rect x="248" y="365" width="1" height="6" fill="#ff0000"/>
<rect x="247" y="365" width="3" height="3" fill="#ff0000"/>
<rect x="248" y="366" width="1" height="1" fill="#ff4500"/>
<rect x="252" y="364" width="1" height="19" fill="#32cd32"/>
<rect x="251" y="365" width="3" height="17" fill="#32cd32"/>
<rect x="256" y="375" width="1" height="11" fill="#32cd32"/>
<rect x="255" y="381" width="3" height="4" fill="#32cd32"/>
<rect x="260" y="365" width="1" height="25" fill="#ff0000"/>
<rect x="259" y="374" width="3" height="11" fill="#ff0000"/>
<rect x="260" y="375" width="1" height="9" fill="#ff4500"/>
<rect x="264" y="367" width="1" height="16" fill="#32cd32"/>
<rect x="263" y="373" width="3" height="8" fill="#32cd32"/>
<rect x="268" y="379" width="1" height="4" fill="#32cd32"/>
<rect x="267" y="380" width="3" height="2" fill="#32cd32"/>
<rect x="272" y="373" width="1" height="9" fill="#ff0000"/>
<rect x="271" y="375" width="3" height="6" fill="#ff0000"/>
<rect x="272" y="376" width="1" height="4" fill="#ff4500"/>
<rect x="276" y="372" width="1" height="10" fill="#32cd32"/>
<rect x="275" y="375" width="3" height="6" fill="#32cd32"/>
<rect x="280" y="374" width="1" height="19" fill="#32cd32"/>
<rect x="279" y="380" width="3" height="11" fill="#32cd32"/>
<rect x="284" y="384" width="1" height="27" fill="#ff0000"/>
<rect x="283" y="385" width="3" height="6" fill="#ff0000"/>
<rect x="284" y="386" width="1" height="4" fill="#ff4500"/>
<rect x="288" y="371" width="1" height="19" fill="#ff0000"/>
<rect x="287" y="372" width="3" height="14" fill="#ff0000"/>
<rect x="288" y="373" width="1" height="12" fill="#ff4500"/>
<rect x="292" y="370" width="1" height="4" fill="#ff0000"/>
<rect x="291" y="371" width="3" height="1" fill="#ff0000"/>
<rect x="296" y="368" width="1" height="14" fill="#32cd32"/>
<rect x="295" y="370" width="3" height="10" fill="#32cd32"/>
<rect x="300" y="373" width="1" height="13" fill="#ff0000"/>
<rect x="299" y="374" width="3" height="6" fill="#ff0000"/>
<rect x="300" y="375" width="1" height="4" fill="#ff4500"/>
<rect x="304" y="362" width="1" height="16" fill="#ff0000"/>
<rect x="303" y="362" width="3" height="13" fill="#ff0000"/>
<rect x="304" y="363" width="1" height="11" fill="#ff4500"/>
<rect x="308" y="355" width="1" height="14" fill="#ff0000"/>
<rect x="307" y="361" width="3" height="3" fill="#ff0000"/>
<rect x="308" y="362" width="1" height="1" fill="#ff4500"/>
<rect x="312" y="358" width="1" height="24" fill="#32cd32"/>
<rect x="311" y="361" width="3" height="14" fill="#32cd32"/>
<rect x="316" y="373" width="1" height="5" fill="#ff0000"/>
<rect x="315" y="374" width="3" height="2" fill="#ff0000"/>
<rect x="320" y="376" width="1" height="10" fill="#ff0000"/>
<rect x="319" y="376" width="3" height="6" fill="#ff0000"/>
<rect x="320" y="377" width="1" height="4" fill="#ff4500"/>
<rect x="324" y="367" width="1" height="11" fill="#ff0000"/>
<rect x="323" y="368" width="3" height="10" fill="#ff0000"/>
<rect x="324" y="369" width="1" height="8" fill="#ff4500"/>
<rect x="328" y="368" width="1" height="17" fill="#32cd32"/>
<rect x="327" y="368" width="3" height="12" fill="#32cd32"/>
<rect x="332" y="372" width="1" height="11" fill="#ff0000"/>
<rect x="331" y="379" width="3" height="2" fill="#ff0000"/>
<rect x="336" y="378" width="1" height="10" fill="#32cd32"/>
<rect x="335" y="379" width="3" height="3" fill="#32cd32"/>
<rect x="340" y="380" width="1" height="4" fill="#32cd32"/>
<rect x="339" y="381" width="3" height="3" fill="#32cd32"/>
<rect x="344" y="370" width="1" height="14" fill="#ff0000"/>
<rect x="343" y="376" width="3" height="7" fill="#ff0000"/>
<rect x="344" y="377" width="1" height="5" fill="#ff4500"/>
<rect x="348" y="374" width="1" height="8" fill="#32cd32"/>
<rect x="347" y="375" width="3" height="4" fill="#32cd32"/>
<rect x="352" y="371" width="1" height="8" fill="#ff0000"/>
<rect x="351" y="375" width="3" height="4" fill="#ff0000"/>
<rect x="352" y="376" width="1" height="2" fill="#ff4500"/>
<rect x="356" y="369" width="1" height="9" fill="#ff0000"/>
<rect x="355" y="369" width="3" height="7" fill="#ff0000"/>
<rect x="356" y="370" width="1" height="5" fill="#ff4500"/>
<rect x="360" y="368" width="1" height="20" fill="#32cd32"/>
<rect x="359" y="369" width="3" height="15" fill="#32cd32"/>
<rect x="364" y="382" width="1" height="4" fill="#32cd32"/>
<rect x="363" y="383" width="3" height="2" fill="#32cd32"/>
<rect x="368" y="381" width="1" height="6" fill="#32cd32"/>
<rect x="367" y="385" width="3" height="2" fill="#32cd32"/>
<rect x="372" y="379" width="1" height="9" fill="#ff0000"/>
<rect x="371" y="380" width="3" height="7" fill="#ff0000"/>
<rect x="372" y="381" width="1" height="5" fill="#ff4500"/>
<rect x="376" y="379" width="1" height="24" fill="#32cd32"/>
<rect x="375" y="380" width="3" height="21" fill="#32cd32"/>
<rect x="380" y="382" width="1" height="25" fill="#ff0000"/>
<rect x="379" y="385" width="3" height="16" fill="#ff0000"/>
<rect x="380" y="386" width="1" height="14" fill="#ff4500"/>
<rect x="384" y="382" width="1" height="4" fill="#32cd32"/>
<rect x="383" y="384" width="3" height="2" fill="#32cd32"/>
<rect x="388" y="376" width="1" height="14" fill="#ff0000"/>
<rect x="387" y="381" width="3" height="8" fill="#ff0000"/>
<rect x="388" y="382" width="1" height="6" fill="#ff4500"/>
<rect x="392" y="368" width="1" height="14" fill="#ff0000"/>
<rect x="391" y="371" width="3" height="10" fill="#ff0000"/>
<rect x="392" y="372" width="1" height="8" fill="#ff4500"/>
<rect x="396" y="367" width="1" height="8" fill="#ff0000"/>
<rect x="395" y="368" width="3" height="4" fill="#ff0000"/>
<rect x="396" y="369" width="1" height="2" fill="#ff4500"/>
<rect x="400" y="348" width="1" height="21" fill="#ff0000"/>
<rect x="399" y="352" width="3" height="16" fill="#ff0000"/>
<rect x="400" y="353" width="1" height="14" fill="#ff4500"/>
<rect x="404" y="351" width="1" height="20" fill="#32cd32"/>
<rect x="403" y="352" width="3" height="13" fill="#32cd32"/>
<rect x="408" y="363" width="1" height="2" fill="#ff0000"/>
<rect x="407" y="363" width="3" height="2" fill="#ff0000"/>
<rect x="412" y="358" width="1" height="9" fill="#ff0000"/>
<rect x="411" y="361" width="3" height="3" fill="#ff0000"/>
<rect x="412" y="362" width="1" height="1" fill="#ff4500"/>
<rect x="416" y="355" width="1" height="11" fill="#ff0000"/>
<rect x="415" y="360" width="3" height="2" fill="#ff0000"/>
<rect x="420" y="360" width="1" height="13" fill="#32cd32"/>
<rect x="419" y="360" width="3" height="12" fill="#32cd32"/>
<rect x="424" y="356" width="1" height="22" fill="#ff0000"/>
<rect x="423" y="357" width="3" height="16" fill="#ff0000"/>
<rect x="424" y="358" width="1" height="14" fill="#ff4500"/>
<rect x="428" y="354" width="1" height="12" fill="#32cd32"/>
<rect x="427" y="357" width="3" height="6" fill="#32cd32"/>
<rect x="432" y="362" width="1" height="3" fill="#32cd32"/>
<rect x="431" y="362" width="3" height="2" fill="#32cd32"/>
<rect x="436" y="363" width="1" height="1" fill="#000"/>
<rect x="435" y="363" width="3" height="1" fill="#000"/>
<rect x="440" y="237" width="1" height="37" fill="#ff0000"/>
<rect x="439" y="241" width="3" height="28" fill="#ff0000"/>
<rect x="440" y="242" width="1" height="26" fill="#ff4500"/>
<rect x="444" y="236" width="1" height="23" fill="#32cd32"/>
<rect x="443" y="241" width="3" height="7" fill="#32cd32"/>
<rect x="448" y="237" width="1" height="18" fill="#ff0000"/>
<rect x="447" y="246" width="3" height="2" fill="#ff0000"/>
<rect x="452" y="238" width="1" height="12" fill="#ff0000"/>
<rect x="451" y="238" width="3" height="10" fill="#ff0000"/>
<rect x="452" y="239" width="1" height="8" fill="#ff4500"/>
<rect x="456" y="215" width="1" height="25" fill="#ff0000"/>
<rect x="455" y="220" width="3" height="19" fill="#ff0000"/>
<rect x="456" y="221" width="1" height="17" fill="#ff4500"/>
<rect x="460" y="218" width="1" height="3" fill="#ff0000"/>
<rect x="459" y="218" width="3" height="3" fill="#ff0000"/>
<rect x="460" y="219" width="1" height="1" fill="#ff4500"/>
<rect x="464" y="217" width="1" height="15" fill="#32cd32"/>
<rect x="463" y="219" width="3" height="3" fill="#32cd32"/>
<rect x="468" y="217" width="1" height="19" fill="#32cd32"/>
<rect x="467" y="221" width="3" height="6" fill="#32cd32"/>
<rect x="472" y="221" width="1" height="13" fill="#32cd32"/>
<rect x="471" y="225" width="3" height="2" fill="#32cd32"/>
<rect x="476" y="219" width="1" height="12" fill="#32cd32"/>
<rect x="475" y="226" width="3" height="5" fill="#32cd32"/>
<rect x="480" y="226" width="1" height="18" fill="#32cd32"/>
<rect x="479" y="230" width="3" height="8" fill="#32cd32"/>
<rect x="484" y="237" width="1" height="4" fill="#32cd32"/>
<rect x="483" y="237" width="3" height="4" fill="#32cd32"/>
<rect x="488" y="238" width="1" height="14" fill="#32cd32"/>
<rect x="487" y="240" width="3" height="6" fill="#32cd32"/>
<rect x="492" y="228" width="1" height="19" fill="#ff0000"/>
<rect x="491" y="238" width="3" height="8" fill="#ff0000"/>
<rect x="492" y="239" width="1" height="6" fill="#ff4500"/>
<rect x="496" y="222" width="1" height="17" fill="#ff0000"/>
<rect x="495" y="225" width="3" height="14" fill="#ff0000"/>
<rect x="496" y="226" width="1" height="12" fill="#ff4500"/>
<rect x="500" y="224" width="1" height="12" fill="#32cd32"/>
<rect x="499" y="225" width="3" height="7" fill="#32cd32"/>
<rect x="504" y="216" width="1" height="18" fill="#ff0000"/>
<rect x="503" y="227" width="3" height="5" fill="#ff0000"/>
<rect x="504" y="228" width="1" height="3" fill="#ff4500"/>
<rect x="508" y="225" width="1" height="5" fill="#32cd32"/>
<rect x="507" y="227" width="3" height="1" fill="#32cd32"/>
<rect x="512" y="223" width="1" height="16" fill="#32cd32"/>
<rect x="511" y="227" width="3" height="5" fill="#32cd32"/>
<rect x="516" y="226" width="1" height="14" fill="#ff0000"/>
<rect x="515" y="230" width="3" height="2" fill="#ff0000"/>
<rect x="520" y="228" width="1" height="11" fill="#ff0000"/>
<rect x="519" y="230" width="3" height="2" fill="#ff0000"/>
<rect x="524" y="227" width="1" height="8" fill="#32cd32"/>
<rect x="523" y="230" width="3" height="4" fill="#32cd32"/>
<rect x="528" y="207" width="1" height="28" fill="#ff0000"/>
<rect x="527" y="220" width="3" height="14" fill="#ff0000"/>
<rect x="528" y="221" width="1" height="12" fill="#ff4500"/>
<rect x="532" y="219" width="1" height="5" fill="#ff0000"/>
<rect x="531" y="219" width="3" height="2" fill="#ff0000"/>
<rect x="536" y="208" width="1" height="15" fill="#32cd32"/>
<rect x="535" y="220" width="3" height="2" fill="#32cd32"/>
<rect x="540" y="216" width="1" height="20" fill="#32cd32"/>
<rect x="539" y="221" width="3" height="12" fill="#32cd32"/>
<rect x="544" y="226" width="1" height="13" fill="#ff0000"/>
<rect x="543" y="229" width="3" height="4" fill="#ff0000"/>
<rect x="544" y="230" width="1" height="2" fill="#ff4500"/>
<rect x="548" y="226" width="1" height="7" fill="#ff0000"/>
<rect x="547" y="227" width="3" height="3" fill="#ff0000"/>
<rect x="548" y="228" width="1" height="1" fill="#ff4500"/>
<rect x="552" y="223" width="1" height="8" fill="#ff0000"/>
<rect x="551" y="225" width="3" height="3" fill="#ff0000"/>
<rect x="552" y="226" width="1" height="1" fill="#ff4500"/>
<rect x="556" y="223" width="1" height="5" fill="#32cd32"/>
<rect x="555" y="225" width="3" height="1" fill="#32cd32"/>
<rect x="560" y="224" width="1" height="7" fill="#ff0000"/>
<rect x="559" y="227" width="3" height="2" fill="#ff0000"/>
<rect x="564" y="222" width="1" height="30" fill="#32cd32"/>
<rect x="563" y="227" width="3" height="20" fill="#32cd32"/>
<rect x="568" y="242" width="1" height="13" fill="#32cd32"/>
<rect x="567" y="246" width="3" height="2" fill="#32cd32"/>
<rect x="572" y="244" width="1" height="43" fill="#32cd32"/>
<rect x="571" y="246" width="3" height="33" fill="#32cd32"/>
<rect x="576" y="264" width="1" height="31" fill="#ff0000"/>
<rect x="575" y="270" width="3" height="10" fill="#ff0000"/>
<rect x="576" y="271" width="1" height="8" fill="#ff4500"/>
<rect x="580" y="270" width="1" height="5" fill="#32cd32"/>
<rect x="579" y="270" width="3" height="5" fill="#32cd32"/>
<rect x="584" y="260" width="1" height="21" fill="#ff0000"/>
<rect x="583" y="268" width="3" height="12" fill="#ff0000"/>
<rect x="584" y="269" width="1" height="10" fill="#ff4500"/>
<rect x="588" y="259" width="1" height="18" fill="#ff0000"/>
<rect x="587" y="265" width="3" height="4" fill="#ff0000"/>
<rect x="588" y="266" width="1" height="2" fill="#ff4500"/>
<rect x="592" y="256" width="1" height="18" fill="#ff0000"/>
<rect x="591" y="263" width="3" height="3" fill="#ff0000"/>
<rect x="592" y="264" width="1" height="1" fill="#ff4500"/>
<rect x="596" y="258" width="1" height="11" fill="#32cd32"/>
<rect x="595" y="263" width="3" height="4" fill="#32cd32"/>
<rect x="600" y="264" width="1" height="14" fill="#32cd32"/>
<rect x="599" y="266" width="3" height="4" fill="#32cd32"/>
<rect x="604" y="269" width="1" height="3" fill="#32cd32"/>
<rect x="603" y="269" width="3" height="2" fill="#32cd32"/>
<rect x="608" y="275" width="1" height="22" fill="#ff0000"/>
<rect x="607" y="275" width="3" height="16" fill="#ff0000"/>
<rect x="608" y="276" width="1" height="14" fill="#ff4500"/>
<rect x="612" y="258" width="1" height="27" fill="#ff0000"/>
<rect x="611" y="261" width="3" height="14" fill="#ff0000"/>
<rect x="612" y="262" width="1" height="12" fill="#ff4500"/>
<rect x="616" y="249" width="1" height="14" fill="#ff0000"/>
<rect x="615" y="260" width="3" height="2" fill="#ff0000"/>
<rect x="620" y="260" width="1" height="11" fill="#32cd32"/>
<rect x="619" y="260" width="3" height="8" fill="#32cd32"/>
<rect x="624" y="250" width="1" height="20" fill="#ff0000"/>
<rect x="623" y="251" width="3" height="16" fill="#ff0000"/>
<rect x="624" y="252" width="1" height="14" fill="#ff4500"/>
<rect x="628" y="250" width="1" height="4" fill="#32cd32"/>
<rect x="627" y="251" width="3" height="3" fill="#32cd32"/>
<rect x="632" y="250" width="1" height="11" fill="#32cd32"/>
<rect x="631" y="251" width="3" height="7" fill="#32cd32"/>
<rect x="636" y="252" width="1" height="11" fill="#ff0000"/>
<rect x="635" y="254" width="3" height="4" fill="#ff0000"/>
<rect x="636" y="255" width="1" height="2" fill="#ff4500"/>
<rect x="640" y="253" width="1" height="17" fill="#32cd32"/>
<rect x="639" y="254" width="3" height="16" fill="#32cd32"/>
<rect x="644" y="265" width="1" height="13" fill="#32cd32"/>
<rect x="643" y="269" width="3" height="1" fill="#32cd32"/>
<rect x="648" y="260" width="1" height="10" fill="#ff0000"/>
<rect x="647" y="263" width="3" height="7" fill="#ff0000"/>
<rect x="648" y="264" width="1" height="5" fill="#ff4500"/>
<rect x="652" y="262" width="1" height="3" fill="#32cd32"/>
<rect x="651" y="262" width="3" height="2" fill="#32cd32"/>
<rect x="656" y="259" width="1" height="12" fill="#32cd32"/>
<rect x="655" y="263" width="3" height="5" fill="#32cd32"/>
<rect x="660" y="263" width="1" height="9" fill="#ff0000"/>
<rect x="659" y="264" width="3" height="3" fill="#ff0000"/>
<rect x="660" y="265" width="1" height="1" fill="#ff4500"/>
<rect x="664" y="260" width="1" height="9" fill="#32cd32"/>
<rect x="663" y="264" width="3" height="4" fill="#32cd32"/>
<rect x="668" y="259" width="1" height="10" fill="#ff0000"/>
<rect x="667" y="263" width="3" height="5" fill="#ff0000"/>
<rect x="668" y="264" width="1" height="3" fill="#ff4500"/>
<rect x="672" y="261" width="1" height="10" fill="#ff0000"/>
<rect x="671" y="261" width="3" height="3" fill="#ff0000"/>
<rect x="672" y="262" width="1" height="1" fill="#ff4500"/>
<rect x="676" y="260" width="1" height="3" fill="#32cd32"/>
<rect x="675" y="260" width="3" height="3" fill="#32cd32"/>
<rect x="680" y="261" width="1" height="6" fill="#ff0000"/>
<rect x="679" y="262" width="3" height="4" fill="#ff0000"/>
<rect x="680" y="263" width="1" height="2" fill="#ff4500"/>
<rect x="684" y="259" width="1" height="6" fill="#ff0000"/>
<rect x="683" y="260" width="3" height="3" fill="#ff0000"/>
<rect x="684" y="261" width="1" height="1" fill="#ff4500"/>
<rect x="688" y="259" width="1" height="12" fill="#32cd32"/>
<rect x="687" y="260" width="3" height="9" fill="#32cd32"/>
<rect x="692" y="265" width="1" height="8" fill="#32cd32"/>
<rect x="691" y="268" width="3" height="3" fill="#32cd32"/>
<rect x="696" y="261" width="1" height="11" fill="#ff0000"/>
<rect x="695" y="263" width="3" height="8" fill="#ff0000"/>
<rect x="696" y="264" width="1" height="6" fill="#ff4500"/>
<rect x="700" y="261" width="1" height="2" fill="#32cd32"/>
<rect x="699" y="262" width="3" height="1" fill="#32cd32"/>
<rect x="704" y="250" width="1" height="15" fill="#ff0000"/>
<rect x="703" y="255" width="3" height="8" fill="#ff0000"/>
<rect x="704" y="256" width="1" height="6" fill="#ff4500"/>
<rect x="708" y="253" width="1" height="7" fill="#32cd32"/>
<rect x="707" y="255" width="3" height="2" fill="#32cd32"/>
<rect x="712" y="252" width="1" height="8" fill="#32cd32"/>
<rect x="711" y="256" width="3" height="1" fill="#32cd32"/>
<rect x="716" y="238" width="1" height="20" fill="#ff0000"/>
<rect x="715" y="246" width="3" height="11" fill="#ff0000"/>
<rect x="716" y="247" width="1" height="9" fill="#ff4500"/>
<rect x="720" y="195" width="1" height="53" fill="#ff0000"/>
<rect x="719" y="201" width="3" height="45" fill="#ff0000"/>
<rect x="720" y="202" width="1" height="43" fill="#ff4500"/>
<rect x="724" y="195" width="1" height="7" fill="#ff0000"/>
<rect x="723" y="196" width="3" height="6" fill="#ff0000"/>
<rect x="724" y="197" width="1" height="4" fill="#ff4500"/>
<rect x="728" y="104" width="1" height="95" fill="#ff0000"/>
<rect x="727" y="114" width="3" height="83" fill="#ff0000"/>
<rect x="728" y="115" width="1" height="81" fill="#ff4500"/>
<rect x="732" y="82" width="1" height="69" fill="#32cd32"/>
<rect x="731" y="114" width="3" height="28" fill="#32cd32"/>
<rect x="736" y="112" width="1" height="33" fill="#ff0000"/>
<rect x="735" y="119" width="3" height="23" fill="#ff0000"/>
<rect x="736" y="120" width="1" height="21" fill="#ff4500"/>
<rect x="740" y="108" width="1" height="29" fill="#32cd32"/>
<rect x="739" y="119" width="3" height="15" fill="#32cd32"/>
<rect x="744" y="110" width="1" height="25" fill="#ff0000"/>
<rect x="743" y="111" width="3" height="24" fill="#ff0000"/>
<rect x="744" y="112" width="1" height="22" fill="#ff4500"/>
<rect x="748" y="104" width="1" height="11" fill="#32cd32"/>
<rect x="747" y="111" width="3" height="4" fill="#32cd32"/>
<rect x="752" y="101" width="1" height="19" fill="#32cd32"/>
<rect x="751" y="108" width="3" height="4" fill="#32cd32"/>
<rect x="756" y="105" width="1" height="82" fill="#32cd32"/>
<rect x="755" y="111" width="3" height="59" fill="#32cd32"/>
<rect x="760" y="143" width="1" height="32" fill="#ff0000"/>
<rect x="759" y="144" width="3" height="26" fill="#ff0000"/>
<rect x="760" y="145" width="1" height="24" fill="#ff4500"/>
<rect x="764" y="138" width="1" height="22" fill="#32cd32"/>
<rect x="763" y="143" width="3" height="4" fill="#32cd32"/>
<rect x="768" y="140" width="1" height="11" fill="#32cd32"/>
<rect x="767" y="145" width="3" height="2" fill="#32cd32"/>
<rect x="772" y="145" width="1" height="5" fill="#32cd32"/>
<rect x="771" y="146" width="3" height="4" fill="#32cd32"/>
<rect x="776" y="136" width="1" height="15" fill="#ff0000"/>
<rect x="775" y="136" width="3" height="15" fill="#ff0000"/>
<rect x="776" y="137" width="1" height="13" fill="#ff4500"/>
<rect x="780" y="126" width="1" height="11" fill="#ff0000"/>
<rect x="779" y="130" width="3" height="7" fill="#ff0000"/>
<rect x="780" y="131" width="1" height="5" fill="#ff4500"/>
<rect x="784" y="129" width="1" height="13" fill="#32cd32"/>
<rect x="783" y="130" width="3" height="5" fill="#32cd32"/>
<rect x="788" y="109" width="1" height="27" fill="#ff0000"/>
<rect x="787" y="116" width="3" height="20" fill="#ff0000"/>
<rect x="788" y="117" width="1" height="18" fill="#ff4500"/>
<rect x="792" y="89" width="1" height="34" fill="#ff0000"/>
<rect x="791" y="90" width="3" height="27" fill="#ff0000"/>
<rect x="792" y="91" width="1" height="25" fill="#ff4500"/>
<rect x="796" y="83" width="1" height="12" fill="#ff0000"/>
<rect x="795" y="85" width="3" height="6" fill="#ff0000"/>
<rect x="796" y="86" width="1" height="4" fill="#ff4500"/>
<rect x="800" y="58" width="1" height="28" fill="#ff0000"/>
<rect x="799" y="61" width="3" height="25" fill="#ff0000"/>
<rect x="800" y="62" width="1" height="23" fill="#ff4500"/>
<rect x="804" y="53" width="1" height="22" fill="#32cd32"/>
<rect x="803" y="61" width="3" height="5" fill="#32cd32"/>
<rect x="808" y="57" width="1" height="15" fill="#ff0000"/>
<rect x="807" y="62" width="3" height="4" fill="#ff0000"/>
<rect x="808" y="63" width="1" height="2" fill="#ff4500"/>
<rect x="812" y="56" width="1" height="26" fill="#32cd32"/>
<rect x="811" y="62" width="3" height="16" fill="#32cd32"/>
<rect x="816" y="66" width="1" height="17" fill="#ff0000"/>
<rect x="815" y="67" width="3" height="11" fill="#ff0000"/>
<rect x="816" y="68" width="1" height="9" fill="#ff4500"/>
<rect x="820" y="61" width="1" height="8" fill="#ff0000"/>
<rect x="819" y="65" width="3" height="4" fill="#ff0000"/>
<rect x="820" y="66" width="1" height="2" fill="#ff4500"/>
<rect x="824" y="48" width="1" height="18" fill="#ff0000"/>
<rect x="823" y="49" width="3" height="17" fill="#ff0000"/>
<rect x="824" y="50" width="1" height="15" fill="#ff4500"/>
<rect x="828" y="43" width="1" height="14" fill="#32cd32"/>
<rect x="827" y="49" width="3" height="6" fill="#32cd32"/>
<rect x="832" y="53" width="1" height="27" fill="#32cd32"/>
<rect x="831" y="54" width="3" height="25" fill="#32cd32"/>
<rect x="836" y="75" width="1" height="21" fill="#32cd32"/>
<rect x="835" y="77" width="3" height="6" fill="#32cd32"/>
<rect x="840" y="75" width="1" height="33" fill="#32cd32"/>
<rect x="839" y="82" width="3" height="20" fill="#32cd32"/>
<rect x="844" y="101" width="1" height="13" fill="#32cd32"/>
<rect x="843" y="101" width="3" height="9" fill="#32cd32"/>
<rect x="848" y="87" width="1" height="18" fill="#ff0000"/>
<rect x="847" y="97" width="3" height="7" fill="#ff0000"/>
<rect x="848" y="98" width="1" height="5" fill="#ff4500"/>
<rect x="852" y="93" width="1" height="19" fill="#32cd32"/>
<rect x="851" y="98" width="3" height="7" fill="#32cd32"/>
<rect x="856" y="96" width="1" height="12" fill="#ff0000"/>
<rect x="855" y="101" width="3" height="4" fill="#ff0000"/>
<rect x="856" y="102" width="1" height="2" fill="#ff4500"/>
<rect x="860" y="100" width="1" height="45" fill="#32cd32"/>
<rect x="859" y="101" width="3" height="34" fill="#32cd32"/>
<rect x="864" y="131" width="1" height="28" fill="#32cd32"/>
<rect x="863" y="134" width="3" height="25" fill="#32cd32"/>
<rect x="868" y="150" width="1" height="9" fill="#ff0000"/>
<rect x="867" y="150" width="3" height="8" fill="#ff0000"/>
<rect x="868" y="151" width="1" height="6" fill="#ff4500"/>
<rect x="872" y="130" width="1" height="21" fill="#ff0000"/>
<rect x="871" y="134" width="3" height="17" fill="#ff0000"/>
<rect x="872" y="135" width="1" height="15" fill="#ff4500"/>
<rect x="876" y="112" width="1" height="26" fill="#ff0000"/>
<rect x="875" y="119" width="3" height="16" fill="#ff0000"/>
<rect x="876" y="120" width="1" height="14" fill="#ff4500"/>
<rect x="880" y="118" width="1" height="8" fill="#32cd32"/>
<rect x="879" y="118" width="3" height="8" fill="#32cd32"/>
<rect x="884" y="105" width="1" height="26" fill="#ff0000"/>
<rect x="883" y="111" width="3" height="14" fill="#ff0000"/>
<rect x="884" y="112" width="1" height="12" fill="#ff4500"/>
<rect x="888" y="107" width="1" height="21" fill="#32cd32"/>
<rect x="887" y="111" width="3" height="9" fill="#32cd32"/>
<rect x="892" y="89" width="1" height="31" fill="#ff0000"/>
<rect x="891" y="99" width="3" height="21" fill="#ff0000"/>
<rect x="892" y="100" width="1" height="19" fill="#ff4500"/>
<rect x="896" y="92" width="1" height="18" fill="#ff0000"/>
<rect x="895" y="98" width="3" height="12" fill="#ff0000"/>
<rect x="896" y="99" width="1" height="10" fill="#ff4500"/>
<rect x="900" y="96" width="1" height="16" fill="#32cd32"/>
<rect x="899" y="98" width="3" height="2" fill="#32cd32"/>
<rect x="904" y="86" width="1" height="22" fill="#ff0000"/>
<rect x="903" y="87" width="3" height="13" fill="#ff0000"/>
<rect x="904" y="88" width="1" height="11" fill="#ff4500"/>
<rect x="908" y="86" width="1" height="13" fill="#32cd32"/>
<rect x="907" y="88" width="3" height="2" fill="#32cd32"/>
<rect x="912" y="74" width="1" height="27" fill="#ff0000"/>
<rect x="911" y="85" width="3" height="5" fill="#ff0000"/>
<rect x="912" y="86" width="1" height="3" fill="#ff4500"/>
<rect x="916" y="76" width="1" height="10" fill="#ff0000"/>
<rect x="915" y="77" width="3" height="9" fill="#ff0000"/>
<rect x="916" y="78" width="1" height="7" fill="#ff4500"/>
<rect x="920" y="75" width="1" height="23" fill="#32cd32"/>
<rect x="919" y="77" width="3" height="4" fill="#32cd32"/>
<rect x="924" y="80" width="1" height="7" fill="#32cd32"/>
<rect x="923" y="80" width="3" height="4" fill="#32cd32"/>
</g>
<g font-family="Liberation Sans, sans-serif" text-rendering="geometricPrecision">
<text x="1172" y="58" font-size="10" fill="#000" textLength="33" lengthAdjust="spacingAndGlyphs">7.17810</text>
<text x="1172" y="91" font-size="10" fill="#000" textLength="33" lengthAdjust="spacingAndGlyphs">7.13050</text>
<text x="1172" y="124" font-size="10" fill="#000" textLength="33" lengthAdjust="spacingAndGlyphs">7.08430</text>
<text x="1172" y="157" font-size="10" fill="#000" textLength="33" lengthAdjust="spacingAndGlyphs">7.03670</text>
<text x="1172" y="190" font-size="10" fill="#000" textLength="33" lengthAdjust="spacingAndGlyphs">6.99050</text>
<text x="1172" y="223" font-size="10" fill="#000" textLength="33" lengthAdjust="spacingAndGlyphs">6.94290</text>
<text x="1172" y="256" font-size="10" fill="#000" textLength="33" lengthAdjust="spacingAndGlyphs">6.89530</text>
<text x="1172" y="289" font-size="10" fill="#000" textLength="33" lengthAdjust="spacingAndGlyphs">6.84770</text>
<text x="1172" y="322" font-size="10" fill="#000" textLength="33" lengthAdjust="spacingAndGlyphs">6.80150</text>
<text x="1172" y="355" font-size="10" fill="#000" textLength="33" lengthAdjust="spacingAndGlyphs">6.75390</text>
<text x="1172" y="388" font-size="10" fill="#000" textLength="33" lengthAdjust="spacingAndGlyphs">6.70630</text>
<text x="1172" y="421" font-size="10" fill="#000" textLength="33" lengthAdjust="spacingAndGlyphs">6.66010</text>
</g>
<g shape-rendering="crispEdges">
<rect x="1168" y="103" width="41" height="11" fill="#ff0000"/>
<rect x="1168" y="173" width="41" height="11" fill="#00ff00"/>
<rect x="1168" y="242" width="41" height="11" fill="#0000ff"/>
<rect x="1168" y="298" width="41" height="11" fill="#0000ff"/>
<rect x="1168" y="78" width="41" height="11" fill="#000"/>
</g>
<g font-family="Liberation Sans, sans-serif" text-rendering="geometricPrecision">
<text x="1172" y="112" font-size="10" fill="#fff" textLength="33" lengthAdjust="spacingAndGlyphs">7.10013</text>
<text x="1172" y="182" font-size="10" fill="#fff" textLength="33" lengthAdjust="spacingAndGlyphs">7.00006</text>
<text x="1172" y="251" font-size="10" fill="#fff" textLength="33" lengthAdjust="spacingAndGlyphs">6.90155</text>
<text x="1172" y="307" font-size="10" fill="#fff" textLength="33" lengthAdjust="spacingAndGlyphs">6.82172</text>
<text x="1172" y="87" font-size="10" fill="#fff" textLength="33" lengthAdjust="spacingAndGlyphs">7.13784</text>
<text x="1170" y="433" font-size="10" fill="#000" textLength="38" lengthAdjust="spacingAndGlyphs">0.063184</text>
<text x="1170" y="467.5" font-size="10" fill="#000" textLength="18" lengthAdjust="spacingAndGlyphs">0.00</text>
<text x="1170" y="486.5" font-size="10" fill="#000" textLength="41" lengthAdjust="spacingAndGlyphs">-0.040355</text>
<text x="1170" y="503" font-size="10" fill="#000" textLength="15" lengthAdjust="spacingAndGlyphs">100</text>
<text x="1170" y="522" font-size="10" fill="#000" textLength="9.5" lengthAdjust="spacingAndGlyphs">70</text>
<text x="1170" y="555" font-size="10" fill="#000" textLength="9.5" lengthAdjust="spacingAndGlyphs">30</text>
<text x="1170" y="573" font-size="10" fill="#000" textLength="5" lengthAdjust="spacingAndGlyphs">0</text>
<path d="M7 34.5 L14.5 34.5 L10.75 29.5 Z" fill="#000"/>
<text x="19.3" y="35" font-size="10" fill="#000" textLength="65.2" lengthAdjust="spacingAndGlyphs">USDCNH,Daily</text>
<text x="91" y="35" font-size="10" fill="#000" textLength="33" lengthAdjust="spacingAndGlyphs">7.14182</text>
<text x="127" y="35" font-size="10" fill="#000" textLength="33" lengthAdjust="spacingAndGlyphs">7.14220</text>
<text x="163" y="35" font-size="10" fill="#000" textLength="33" lengthAdjust="spacingAndGlyphs">7.13311</text>
<text x="199" y="35" font-size="10" fill="#000" textLength="33" lengthAdjust="spacingAndGlyphs">7.13784</text>
<text x="8" y="435" font-size="10" fill="#000" textLength="148" lengthAdjust="spacingAndGlyphs">MACD(12,26,9) 0.013095 0.007644</text>
<text x="8" y="504.5" font-size="10" fill="#000" textLength="67.5" lengthAdjust="spacingAndGlyphs">RSI(14) 58.6994</text>
<text x="3.5" y="589" font-size="10" fill="#000" textLength="51" lengthAdjust="spacingAndGlyphs">29 Dec 2018</text>
<text x="67.5" y="589" font-size="10" fill="#000" textLength="49" lengthAdjust="spacingAndGlyphs">17 Jan 2019</text>
<text x="131.5" y="589" font-size="10" fill="#000" textLength="46" lengthAdjust="spacingAndGlyphs">5 Feb 2019</text>
<text x="195.5" y="589" font-size="10" fill="#000" textLength="51.4" lengthAdjust="spacingAndGlyphs">23 Feb 2019</text>
<text x="259.5" y="589" font-size="10" fill="#000" textLength="51.5" lengthAdjust="spacingAndGlyphs">14 Mar 2019</text>
<text x="323.5" y="589" font-size="10" fill="#000" textLength="45.3" lengthAdjust="spacingAndGlyphs">2 Apr 2019</text>
<text x="387.5" y="589" font-size="10" fill="#000" textLength="50" lengthAdjust="spacingAndGlyphs">22 Apr 2019</text>
<text x="451.5" y="589" font-size="10" fill="#000" textLength="54.5" lengthAdjust="spacingAndGlyphs">16 May 2019</text>
<text x="515.5" y="589" font-size="10" fill="#000" textLength="44" lengthAdjust="spacingAndGlyphs">4 Jun 2019</text>
<text x="579.5" y="589" font-size="10" fill="#000" textLength="49" lengthAdjust="spacingAndGlyphs">22 Jun 2019</text>
<text x="643.5" y="589" font-size="10" fill="#000" textLength="45" lengthAdjust="spacingAndGlyphs">11 Jul 2019</text>
<text x="707.5" y="589" font-size="10" fill="#000" textLength="45" lengthAdjust="spacingAndGlyphs">30 Jul 2019</text>
<text x="771.5" y="589" font-size="10" fill="#000" textLength="52" lengthAdjust="spacingAndGlyphs">17 Aug 2019</text>
<text x="835.5" y="589" font-size="10" fill="#000" textLength="46.8" lengthAdjust="spacingAndGlyphs">5 Sep 2019</text>
<text x="899.5" y="589" font-size="10" fill="#000" textLength="51.4" lengthAdjust="spacingAndGlyphs">24 Sep 2019</text>
</g>
</svg>
<!-- one click trading panel -->
<div class="abs" style="left:5px;top:41px;width:223px;height:68px;background:#fff"></div>
<div id="oct" class="abs" style="left:7px;top:43px;width:219px;height:64px;">
 <div class="abs" style="left:0;top:0;width:219px;height:64px;background:linear-gradient(#5555f2,#3a3ae4 38%,#0909a4);"></div>
 <div class="abs" style="left:52px;top:0;width:115px;height:24px;background:#fff"></div>
 <div class="abs" style="left:109px;top:24px;width:2px;height:40px;background:#fff"></div>
 <div class="abs" style="left:54px;top:0;width:109px;height:20px;border:1px solid #a8a8a8;background:#fff;box-sizing:content-box"></div>
 <div class="abs" style="left:56px;top:2px;width:19px;height:18px;background:linear-gradient(#ececec,#c6c6c6);border-right:1px solid #b0b0b0"></div>
 <div class="abs" style="left:143px;top:2px;width:19px;height:18px;background:linear-gradient(#ececec,#c6c6c6);border-left:1px solid #b0b0b0"></div>
 <svg class="abs" style="left:0;top:0" width="219" height="64" font-family="Liberation Sans, sans-serif">
  <path d="M62.5 9 L68.5 9 L65.5 12.5 Z" fill="#4a5ac8"/>
  <path d="M150 12 L156 12 L153 8.5 Z" fill="#4a5ac8"/>
  <text x="139.5" y="14.4" font-size="11.5" text-anchor="end" fill="#000">5.00</text>
  <text x="12.5" y="16" font-size="12" fill="#e8e8ff" textLength="25.5" lengthAdjust="spacingAndGlyphs">SELL</text>
  <text x="180.5" y="16" font-size="12" fill="#e8e8ff" textLength="23.5" lengthAdjust="spacingAndGlyphs">BUY</text>
  <rect x="4" y="23" width="44" height="1" fill="#1c1cb0"/><rect x="4" y="24" width="44" height="1" fill="#5c5cee"/>
  <rect x="171" y="23" width="44" height="1" fill="#1c1cb0"/><rect x="171" y="24" width="44" height="1" fill="#5c5cee"/>
  <text x="20" y="54.6" font-size="12" font-weight="bold" fill="#fff" textLength="24" lengthAdjust="spacingAndGlyphs">7.13</text>
  <text x="47.5" y="54.9" font-size="34.5" fill="#fff" textLength="34.5" lengthAdjust="spacingAndGlyphs">78</text>
  <text x="87" y="39" font-size="11.5" font-weight="bold" fill="#fff">4</text>
  <text x="130" y="54.6" font-size="12" font-weight="bold" fill="#fff" textLength="24" lengthAdjust="spacingAndGlyphs">7.14</text>
  <text x="158.5" y="54.9" font-size="34.5" fill="#fff" textLength="34" lengthAdjust="spacingAndGlyphs">02</text>
  <text x="198" y="39" font-size="11.5" font-weight="bold" fill="#fff">1</text>
 </svg>
</div>
<!-- bottom tab strip -->
<div class="abs" style="left:1px;top:597px;width:1208px;height:1px;background:#e3e3e3"></div>
<div class="abs" style="left:0;top:599px;width:1209px;height:1px;background:#000"></div>
<div id="tabs" class="abs">
 <div class="abs" style="left:0;top:0;width:1px;height:18px;background:#505050"></div>
 <svg class="abs" style="left:0;top:-1px" width="1209" height="20" font-family="Liberation Sans, sans-serif">
<text x="17.5" y="14.8" font-size="11.5" fill="#727276" textLength="79.4" lengthAdjust="spacingAndGlyphs">EURUSD,Daily</text>
<text x="120" y="14.8" font-size="11.5" fill="#727276" textLength="81.5" lengthAdjust="spacingAndGlyphs">AUDUSD,Daily</text>
<text x="223.3" y="14.8" font-size="11.5" fill="#727276" textLength="78.5" lengthAdjust="spacingAndGlyphs">USDCHF,Daily</text>
<text x="324.6" y="14.8" font-size="11.5" fill="#727276" textLength="80.1" lengthAdjust="spacingAndGlyphs">USDCAD,Daily</text>
<text x="531.6" y="14.8" font-size="11.5" fill="#727276" textLength="69.4" lengthAdjust="spacingAndGlyphs">XAUUSD,H4</text>
<text x="623.4" y="14.8" font-size="11.5" fill="#727276" textLength="46.6" lengthAdjust="spacingAndGlyphs">DJ30,H4</text>
<text x="693" y="14.8" font-size="11.5" fill="#727276" textLength="59.5" lengthAdjust="spacingAndGlyphs">USDOil,H1</text>
<text x="775.4" y="14.8" font-size="11.5" fill="#727276" textLength="66.0" lengthAdjust="spacingAndGlyphs">USDCHF,H1</text>
<text x="865.4" y="14.8" font-size="11.5" fill="#727276" textLength="67.4" lengthAdjust="spacingAndGlyphs">GBPUSD,H1</text>
<text x="957.4" y="14.8" font-size="11.5" fill="#727276" textLength="67.2" lengthAdjust="spacingAndGlyphs">EURUSD,H1</text>
<text x="1048" y="14.8" font-size="11.5" fill="#727276" textLength="68.7" lengthAdjust="spacingAndGlyphs">GBPAUD,H1</text>
<text x="1139.3" y="14.8" font-size="11.5" fill="#727276" textLength="36.1" lengthAdjust="spacingAndGlyphs">USDJP</text>
<rect x="109" y="3.5" width="1" height="13" fill="#555" shape-rendering="crispEdges"/>
<rect x="213" y="3.5" width="1" height="13" fill="#555" shape-rendering="crispEdges"/>
<rect x="313" y="3.5" width="1" height="13" fill="#555" shape-rendering="crispEdges"/>
<rect x="613" y="3.5" width="1" height="13" fill="#555" shape-rendering="crispEdges"/>
<rect x="681" y="3.5" width="1" height="13" fill="#555" shape-rendering="crispEdges"/>
<rect x="765" y="3.5" width="1" height="13" fill="#555" shape-rendering="crispEdges"/>
<rect x="853" y="3.5" width="1" height="13" fill="#555" shape-rendering="crispEdges"/>
<rect x="945" y="3.5" width="1" height="13" fill="#555" shape-rendering="crispEdges"/>
<rect x="1037" y="3.5" width="1" height="13" fill="#555" shape-rendering="crispEdges"/>
<rect x="1129.5" y="3.5" width="1" height="13" fill="#555" shape-rendering="crispEdges"/>
<g shape-rendering="crispEdges"><rect x="417" y="0" width="104" height="18" fill="#fff"/><rect x="417" y="0" width="1" height="18" fill="#000"/><rect x="520" y="0" width="1" height="18" fill="#000"/><rect x="417" y="17" width="104" height="2" fill="#000"/></g>
<text x="427.4" y="14.8" font-size="11.5" fill="#000" textLength="82.4" lengthAdjust="spacingAndGlyphs">USDCNH,Daily</text>
<path d="M1185 6.5 L1185 11.5 L1181.5 9 Z" fill="#9a9a9a"/><path d="M1200 5.5 L1200 12.5 L1204.5 9 Z" fill="#000"/>
</svg>
</div>
<div class="abs" style="left:0;top:618px;width:1209px;height:3px;background:#fbfbfb"></div>
</body></html>
